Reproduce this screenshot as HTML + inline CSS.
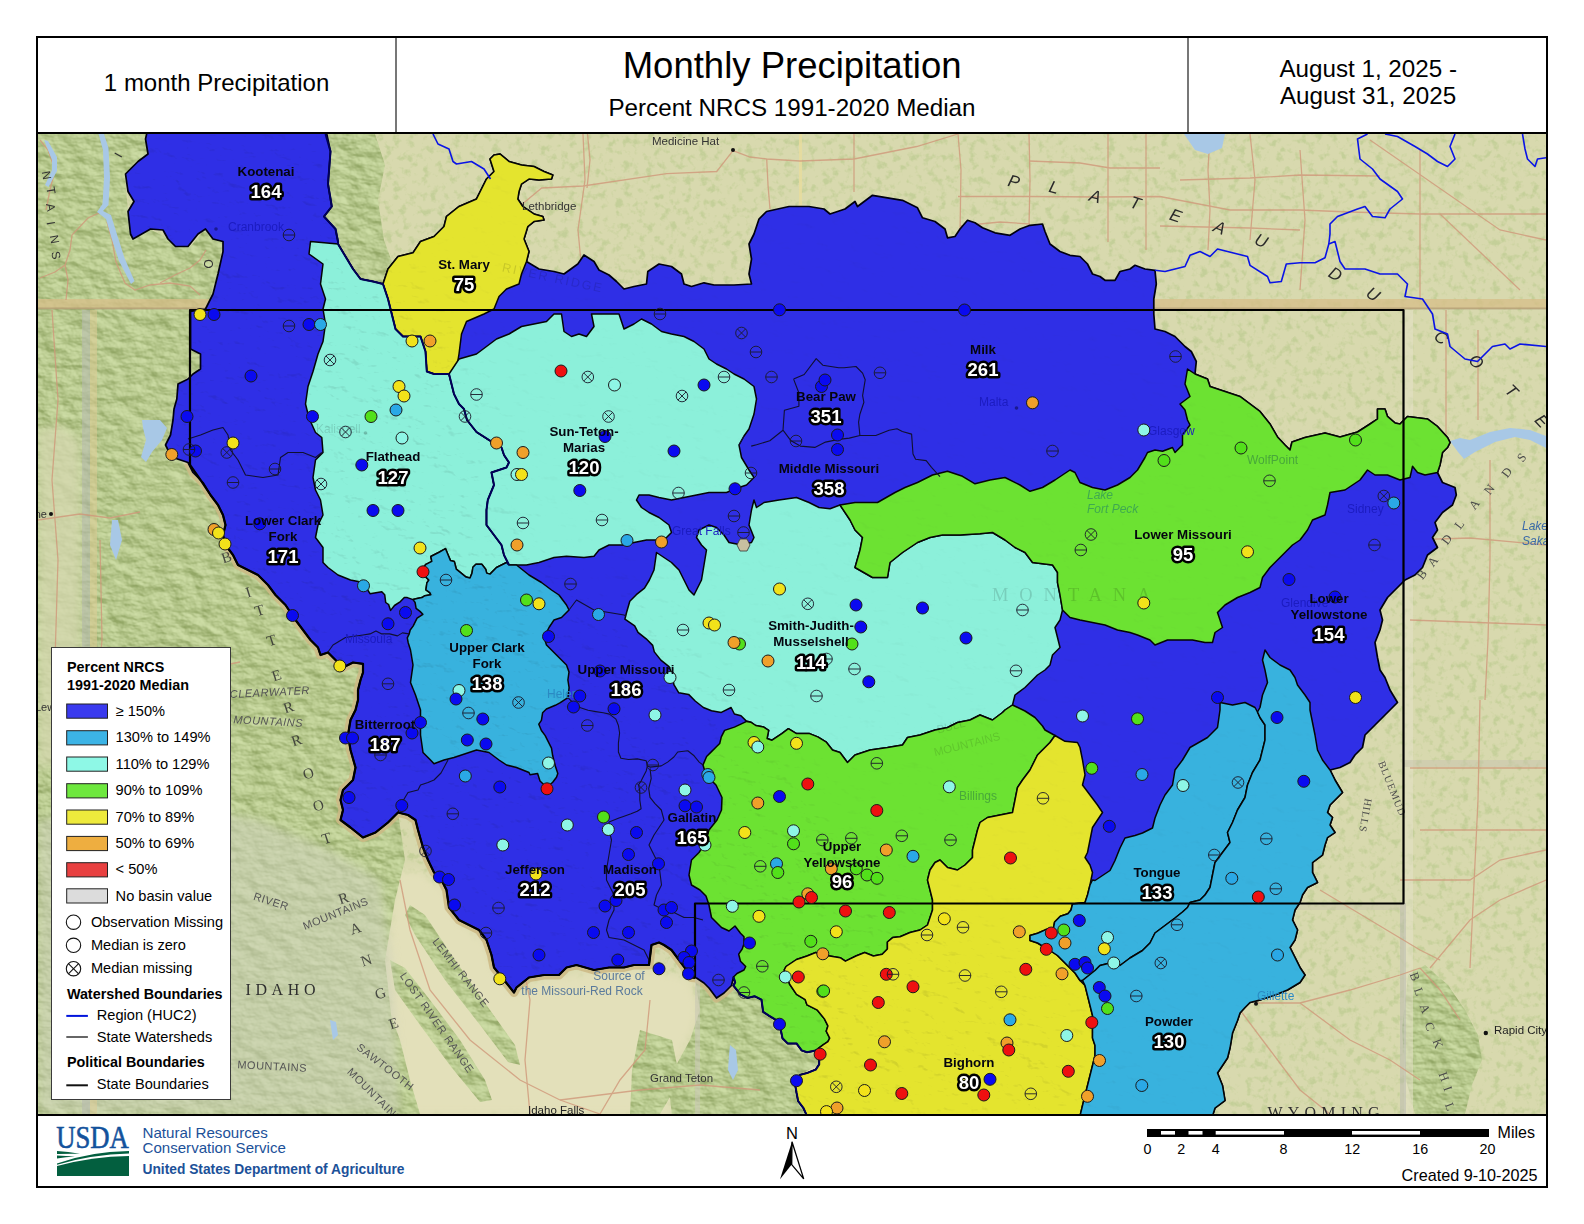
<!DOCTYPE html>
<html><head><meta charset="utf-8"><title>Monthly Precipitation</title>
<style>
html,body{margin:0;padding:0;background:#fff;}
body{width:1584px;height:1224px;position:relative;overflow:hidden;}
svg{position:absolute;left:0;top:0;font-family:"Liberation Sans",Arial,sans-serif;}
.bn{font-weight:bold;font-size:13.3px;fill:#05050f;text-anchor:middle;}
.bv{font-weight:bold;font-size:18.5px;fill:#fff;text-anchor:middle;paint-order:stroke;stroke:#000;stroke-width:5px;stroke-linejoin:round;}
.lh{font-weight:bold;font-size:14.35px;}
.lt{font-size:14.6px;}
.ft{font-size:14.2px;fill:#1c5199;}
.pl{font-size:11px;fill:#3a3a3a;}
</style></head><body>
<svg width="1584" height="1224" viewBox="0 0 1584 1224">
<defs><clipPath id="mapclip"><rect x="38" y="134" width="1508" height="980"/></clipPath></defs>
<rect x="0" y="0" width="1584" height="1224" fill="#fff"/>
<g clip-path="url(#mapclip)">

<defs>
  <filter id="speck" x="0" y="0" width="100%" height="100%" color-interpolation-filters="sRGB">
    <feTurbulence type="fractalNoise" baseFrequency="0.13" numOctaves="3" seed="3"/>
    <feColorMatrix type="matrix" values="0 0 0 0 0.70  0 0 0 0 0.78  0 0 0 0 0.52  0 0 0 -4.2 2.05"/>
  </filter>
  <filter id="hillshade" x="0" y="0" width="100%" height="100%" color-interpolation-filters="sRGB">
    <feTurbulence type="fractalNoise" baseFrequency="0.05 0.09" numOctaves="4" seed="11" result="t"/>
    <feDiffuseLighting in="t" surfaceScale="4" diffuseConstant="1.0" lighting-color="#ffffff" result="l">
      <feDistantLight azimuth="315" elevation="38"/>
    </feDiffuseLighting>
    <feColorMatrix in="l" type="matrix" values="0.24 0 0 0 0.575  0.22 0 0 0 0.655  0.26 0 0 0 0.40  0 0 0 0 1"/>
  </filter>
  <clipPath id="mclip">
    <polygon points="38.0,134.0 150.0,134.0 145.0,139.0 148.0,154.0 125.0,174.0 128.0,212.0 133.0,239.0 150.0,229.0 168.0,239.0 176.0,247.0 190.0,247.0 205.0,229.0 223.0,242.0 218.0,274.0 208.0,304.0 190.0,311.0 190.0,349.0 200.0,354.0 200.0,369.0 178.0,384.0 174.0,409.0 170.0,435.0 168.0,450.0 180.0,460.0 193.0,473.0 210.0,495.0 223.0,515.0 225.0,545.0 238.0,565.0 258.0,575.0 276.0,595.0 296.0,620.0 311.0,640.0 320.0,655.0 343.0,668.0 363.0,664.0 358.0,700.0 348.0,735.0 355.0,768.0 343.0,790.0 341.0,820.0 363.0,838.0 398.0,812.0 405.0,860.0 395.0,900.0 385.0,960.0 395.0,1050.0 400.0,1114.0 38.0,1114.0"/><polygon points="325.0,134.0 375.0,134.0 385.0,165.0 378.0,200.0 384.0,240.0 392.0,262.0 395.0,280.0 383.0,284.0 360.0,279.0 345.0,256.0 338.0,244.0 335.0,229.0 324.0,216.0 332.0,206.0 328.0,184.0 330.0,151.0"/><polygon points="695.0,978.0 733.0,977.0 740.0,994.0 762.0,1000.0 769.0,1015.0 781.0,1030.0 788.0,1043.0 801.0,1050.0 816.0,1051.0 819.0,1064.0 800.0,1075.0 795.0,1090.0 807.0,1116.0 672.0,1116.0 668.0,1080.0 690.0,1040.0 700.0,1010.0"/><polygon points="1408.0,975.0 1425.0,965.0 1448.0,985.0 1465.0,1010.0 1478.0,1035.0 1482.0,1060.0 1472.0,1085.0 1465.0,1114.0 1415.0,1114.0 1406.0,1080.0 1402.0,1030.0"/>
    <polygon points="410.0,905.0 425.0,915.0 455.0,960.0 490.0,1010.0 515.0,1045.0 520.0,1065.0 508.0,1062.0 480.0,1025.0 445.0,980.0 415.0,935.0 405.0,915.0"/><polygon points="390.0,960.0 405.0,968.0 430.0,1000.0 460.0,1040.0 485.0,1080.0 492.0,1100.0 480.0,1102.0 452.0,1068.0 420.0,1025.0 395.0,990.0"/><polygon points="385.0,1000.0 400.0,1040.0 410.0,1080.0 420.0,1114.0 395.0,1114.0 388.0,1060.0"/><polygon points="640.0,1030.0 672.0,1040.0 680.0,1080.0 660.0,1114.0 630.0,1114.0 632.0,1070.0"/>
  </clipPath>
  <filter id="soft"><feGaussianBlur stdDeviation="5"/></filter>
</defs>
<rect x="38" y="134" width="1508" height="980" fill="#d8d9ae"/>
<rect x="38" y="134" width="1508" height="980" filter="url(#speck)" opacity="0.5"/>
<g filter="url(#soft)">
<polygon points="395.0,870.0 420.0,870.0 446.0,890.0 459.0,920.0 486.0,940.0 494.0,968.0 514.0,993.0 540.0,978.0 600.0,970.0 650.0,968.0 690.0,978.0 700.0,1010.0 690.0,1040.0 668.0,1080.0 672.0,1116.0 400.0,1116.0 395.0,1050.0 385.0,960.0" fill="#e3e0ba"/>
</g>
<g clip-path="url(#mclip)">
<rect x="38" y="134" width="1508" height="980" filter="url(#hillshade)"/>
</g>
<polygon points="38.0,820.0 150.0,800.0 260.0,820.0 330.0,850.0 380.0,880.0 392.0,960.0 400.0,1114.0 38.0,1114.0" fill="#d0d2c0" opacity="0.5" filter="url(#soft)"/>
<polygon points="38,430 60,425 80,440 82,560 80,700 60,760 38,770" fill="#d6d8b0" opacity="0.75" filter="url(#soft)"/>
<polyline points="188.0,462.5 193.0,472.5 203.0,482.5 210.5,495.0 218.0,505.0 223.0,515.0 225.5,525.0 223.0,535.0 225.5,545.0 233.0,555.0 238.0,565.0 248.0,570.0 258.0,575.0 268.0,585.0 275.5,595.0 285.5,605.0 295.5,620.0 303.0,630.0 310.5,640.0 318.0,647.5 320.5,655.0 328.0,652.5 335.5,660.0 343.0,667.5 353.0,662.5 363.0,663.8 363.0,672.5 360.5,680.0 358.0,690.0 358.0,700.0 355.5,710.0 350.5,720.0 348.0,735.0 350.5,750.0 355.5,767.5 353.0,780.0 343.0,790.0 340.5,800.0 343.0,810.0 340.5,820.0 350.5,827.5 363.0,837.5 375.5,832.5 388.0,822.5 398.0,812.5 408.0,815.0 415.5,820.0 418.0,830.0 423.0,847.5 428.0,860.0 434.0,872.5 441.5,880.0 446.5,890.0 449.0,907.5 459.0,920.0 469.0,925.0 479.0,930.0 486.5,940.0 491.5,955.0 494.0,967.5 504.0,980.0 514.0,992.5 516.5,987.5 529.0,977.5 544.0,975.0 559.0,975.0 566.5,967.5 576.5,965.0 594.0,970.0 609.0,967.5 624.0,967.5 634.0,965.0 649.0,965.0 651.5,945.0 659.0,942.5 664.0,945.0 671.5,950.0 679.0,960.0 686.5,970.0 691.5,977.5 696.5,978.0 704.0,983.0 709.0,988.0 716.5,998.0 724.0,993.0 731.5,985.5 733.5,977.0" fill="none" stroke="#cdb884" stroke-width="9" stroke-linejoin="round" opacity="0.85"/>
<rect x="38" y="299" width="1508" height="10" fill="#d7bd88" opacity="0.75"/>
<rect x="38" y="307.5" width="1508" height="2" fill="#a08a68" opacity="0.5"/>
<rect x="82" y="310" width="8" height="804" fill="#b4b8ae" opacity="0.55"/>
<rect x="90" y="310" width="7" height="804" fill="#dccb94" opacity="0.55"/>
<rect x="1404" y="310" width="9" height="804" fill="#e6e2c8" opacity="0.55"/>
<rect x="799" y="134" width="3" height="80" fill="#e8dc9c" opacity="0.8"/>
<rect x="695" y="978" width="5" height="136" fill="#c9c6b4" opacity="0.55"/>
<rect x="1400" y="903" width="6" height="211" fill="#b8b8b0" opacity="0.5"/>
<rect x="1404" y="760" width="142" height="7" fill="#c8c4b0" opacity="0.5"/>
<rect x="1290" y="903" width="116" height="7" fill="#c8c4b0" opacity="0.4"/>
<g fill="none" stroke="#d0987a" stroke-width="1.3" opacity="0.8"><polyline points="520.0,206.0 541.7,188.0 583.0,186.0 666.7,173.6 716.7,171.5 733.0,150.7"/><polyline points="733.0,150.7 750.0,157.0 766.7,159.0 800.0,161.0 854.0,159.0 916.7,146.5 958.0,134.0"/><polyline points="766.7,159.0 768.0,185.0 770.0,209.0"/><polyline points="854.0,134.0 854.0,192.0"/><polyline points="958.0,134.0 961.0,170.0 960.0,234.0"/><polyline points="1029.0,134.0 1030.0,180.0 1029.0,226.0"/><polyline points="958.0,196.5 1029.0,196.5 1100.0,197.0 1160.0,196.5 1230.0,210.0 1300.0,210.0 1350.0,212.0 1420.0,214.0 1546.0,214.0"/><polyline points="1029.0,161.0 1080.0,163.0 1110.0,168.0 1160.0,168.0"/><polyline points="1108.0,134.0 1108.0,242.0"/><polyline points="1146.0,134.0 1146.0,250.0"/><polyline points="583.0,134.0 585.0,180.0 578.0,230.0 581.0,262.0"/><polyline points="587.5,134.0 590.0,160.0 587.0,188.0"/><polyline points="960.0,226.0 1000.0,222.0 1030.0,224.0"/><polyline points="40.0,278.0 55.0,272.0 65.0,265.0 70.0,250.0 72.0,235.0 88.0,218.0 99.0,213.0"/><polyline points="65.0,265.0 68.0,280.0 66.0,300.0"/><polyline points="107.0,222.0 112.0,240.0 116.0,262.0 125.0,283.0 135.0,290.0 150.0,285.0 170.0,283.0 190.0,286.0 200.0,295.0"/><polyline points="160.0,283.0 175.0,275.0 190.0,268.0 200.0,260.0 206.0,250.0"/><polyline points="40.0,140.0 48.0,150.0 55.0,170.0 50.0,190.0 46.0,210.0"/><polyline points="1180.0,180.0 1250.0,178.0 1300.0,175.0 1380.0,176.0"/><polyline points="1210.0,134.0 1208.0,170.0 1210.0,210.0 1208.0,250.0"/><polyline points="1250.0,134.0 1255.0,180.0 1250.0,240.0"/><polyline points="1300.0,150.0 1305.0,220.0 1300.0,290.0"/><polyline points="1420.0,150.0 1420.0,300.0"/><polyline points="1440.0,214.0 1520.0,290.0"/><polyline points="1370.0,140.0 1500.0,230.0 1546.0,240.0"/><polyline points="1160.0,226.0 1250.0,228.0 1300.0,230.0"/><polyline points="1446.0,310.0 1446.0,440.0"/><polyline points="1478.0,330.0 1478.0,420.0"/><polyline points="1405.0,540.0 1470.0,538.0 1546.0,545.0"/><polyline points="1490.0,460.0 1490.0,560.0 1488.0,640.0 1485.0,700.0"/><polyline points="1410.0,620.0 1546.0,625.0"/><polyline points="1480.0,700.0 1478.0,800.0 1470.0,968.0"/><polyline points="1410.0,768.0 1546.0,768.0"/><polyline points="1420.0,830.0 1546.0,830.0"/><polyline points="1400.0,880.0 1470.0,880.0 1500.0,860.0 1546.0,850.0"/><polyline points="1320.0,890.0 1370.0,920.0 1420.0,950.0 1440.0,960.0"/><polyline points="1257.0,1003.0 1300.0,1003.0 1350.0,990.0 1400.0,975.0 1420.0,968.0"/><polyline points="1300.0,1003.0 1350.0,1040.0 1390.0,1060.0 1420.0,1080.0"/><polyline points="1420.0,968.0 1440.0,990.0 1460.0,1020.0"/><polyline points="1430.0,968.0 1470.0,920.0 1500.0,900.0 1546.0,880.0"/><polyline points="52.0,310.0 58.0,400.0 52.0,480.0 58.0,560.0 55.0,660.0 60.0,760.0 55.0,860.0"/><polyline points="38.0,520.0 80.0,514.0 110.0,518.0 140.0,512.0"/><polyline points="100.0,540.0 102.0,640.0 95.0,720.0"/><polyline points="150.0,680.0 200.0,670.0 240.0,662.0"/><polyline points="170.0,700.0 180.0,780.0 200.0,850.0"/><polyline points="520.0,950.0 530.0,1000.0 525.0,1060.0 530.0,1114.0"/><polyline points="650.0,1000.0 645.0,1050.0 620.0,1080.0 600.0,1114.0"/><polyline points="400.0,880.0 410.0,930.0 430.0,990.0 470.0,1040.0 520.0,1080.0 560.0,1100.0"/><polyline points="560.0,1100.0 600.0,1114.0"/><polyline points="560.0,1100.0 640.0,1090.0 700.0,1085.0 760.0,1090.0"/><polyline points="1240.0,1010.0 1270.0,1050.0 1300.0,1090.0 1330.0,1114.0"/></g>
<g fill="#a8c8e6"><polygon points="98.5,134.0 104.0,134.0 108.5,148.0 110.0,178.0 108.5,205.0 103.0,211.0 111.0,215.0 117.5,236.0 124.5,258.0 134.5,281.0 131.0,284.0 119.0,261.0 111.5,238.0 106.0,219.0 97.0,212.0 102.5,204.0 104.0,178.0 103.0,150.0"/><polygon points="44.0,140.0 48.0,141.0 57.0,157.0 57.0,171.0 48.5,187.0 45.0,185.0 52.0,170.0 52.0,160.0"/><polygon points="1184.0,134.0 1225.0,134.0 1222.0,148.0 1208.0,154.0 1195.0,150.0"/><polygon points="142.0,420.0 160.0,420.0 167.0,428.0 162.0,440.0 152.0,452.0 146.0,462.0 141.0,457.0 146.0,440.0 143.0,428.0"/><polygon points="1450.0,441.0 1458.0,452.0 1464.0,459.0 1475.0,452.0 1495.0,442.0 1515.0,437.0 1530.0,440.0 1546.0,448.0 1546.0,436.0 1530.0,430.0 1510.0,428.0 1490.0,432.0 1470.0,440.0 1460.0,438.0"/><polygon points="112.0,520.0 118.0,520.0 122.0,540.0 116.0,560.0 110.0,545.0"/><polygon points="199.0,665.0 210.0,660.0 220.0,658.0 218.0,664.0 206.0,668.0 200.0,672.0"/><polygon points="330.0,1020.0 336.0,1022.0 338.0,1035.0 333.0,1040.0"/><polygon points="730.0,1045.0 736.0,1050.0 738.0,1070.0 733.0,1080.0 728.0,1070.0 729.0,1055.0"/></g>

<polygon points="148.0,128.0 325.5,128.0 330.5,151.5 328.0,184.0 331.8,206.5 324.0,216.5 335.5,229.0 338.0,241.5 338.0,244.0 345.5,256.5 353.0,269.0 360.5,279.0 373.0,281.5 383.0,284.0 388.0,269.0 398.0,256.5 413.0,252.8 420.5,241.5 434.0,236.5 444.0,226.5 446.5,216.5 459.0,206.5 476.5,199.0 484.0,184.0 486.5,179.0 494.0,171.5 490.0,159.0 494.0,155.0 500.0,154.0 509.0,161.5 521.5,165.0 534.0,166.5 544.0,171.5 552.8,175.0 551.5,179.0 539.0,180.0 529.0,179.0 521.5,184.0 519.0,191.5 517.8,199.0 522.8,206.5 534.0,214.0 542.8,216.5 544.0,220.0 534.0,221.5 527.8,226.5 524.0,239.0 529.0,251.5 526.5,261.5 539.0,269.0 554.0,271.5 564.0,274.0 577.8,264.0 584.0,255.0 594.0,261.5 599.0,270.0 609.0,275.0 616.5,281.5 624.0,289.0 634.0,286.5 646.5,284.0 647.8,271.5 659.0,264.0 671.5,266.5 681.5,274.0 684.0,284.0 691.5,286.5 704.0,282.8 714.0,285.0 734.0,285.0 751.5,284.0 749.0,274.0 751.5,259.0 749.0,244.0 754.0,234.0 759.0,219.0 766.5,211.5 789.0,206.5 809.0,206.5 824.0,209.0 830.0,214.0 845.0,209.0 855.0,201.5 857.5,206.5 872.5,195.3 887.5,197.8 902.5,200.3 917.5,207.8 922.5,217.8 935.0,221.5 945.0,229.0 947.5,237.8 955.0,236.5 960.0,229.0 967.5,220.3 975.0,222.8 982.5,227.8 995.0,232.8 1010.0,235.3 1020.0,229.0 1030.0,225.3 1042.5,224.0 1045.0,231.5 1050.0,244.0 1060.0,251.5 1070.0,255.3 1080.0,256.5 1087.5,264.0 1092.5,274.0 1100.0,276.5 1105.0,280.3 1115.0,280.3 1120.0,271.5 1130.0,269.0 1135.0,265.3 1145.0,269.0 1155.0,270.3 1156.3,284.0 1153.8,299.0 1153.8,314.0 1155.0,329.0 1165.0,331.5 1175.0,336.5 1185.0,346.5 1191.3,351.5 1196.3,361.5 1195.0,374.0 1207.5,379.0 1210.0,386.5 1225.0,391.5 1240.0,396.5 1250.0,404.0 1260.0,411.5 1270.0,424.0 1277.5,437.0 1285.0,445.0 1290.0,450.0 1292.0,442.0 1305.0,437.5 1325.0,433.0 1340.0,437.0 1357.5,432.0 1370.0,424.0 1377.5,419.0 1377.5,409.0 1385.0,409.0 1387.5,416.5 1395.0,423.0 1400.0,424.0 1407.5,416.5 1427.5,419.0 1437.5,426.5 1447.5,437.5 1450.0,442.5 1447.5,447.5 1442.5,452.5 1440.0,465.0 1437.5,472.5 1442.5,482.5 1455.0,487.5 1456.3,495.0 1452.5,505.0 1442.5,512.5 1435.0,522.5 1437.5,530.0 1432.5,537.5 1437.5,547.5 1427.5,555.0 1422.5,567.5 1415.0,575.0 1405.0,580.0 1397.5,587.5 1387.5,597.5 1380.0,610.0 1382.5,620.0 1380.0,630.0 1375.0,642.5 1377.5,657.5 1380.0,670.0 1385.0,677.5 1390.0,690.0 1397.5,702.5 1390.0,710.0 1385.0,715.0 1375.0,725.0 1365.0,735.0 1362.5,747.5 1355.0,755.0 1350.0,762.5 1340.0,767.5 1330.0,770.0 1335.0,780.0 1342.5,792.5 1335.0,800.0 1330.0,805.0 1327.5,812.5 1332.5,817.5 1330.0,825.0 1335.0,832.5 1327.5,837.5 1325.0,845.0 1322.5,855.0 1312.5,862.5 1312.5,872.5 1317.5,882.5 1307.5,887.5 1302.5,895.0 1300.0,902.5 1295.0,910.0 1292.5,920.0 1297.5,930.0 1295.0,940.0 1290.0,947.5 1295.0,957.5 1300.0,967.5 1305.0,975.0 1300.0,982.5 1287.5,990.0 1275.0,995.0 1260.0,1000.0 1250.0,1002.5 1245.0,1007.5 1240.0,1013.0 1237.5,1020.5 1232.5,1033.0 1230.0,1048.0 1227.5,1058.0 1222.5,1065.5 1217.5,1073.0 1222.5,1085.5 1225.0,1100.5 1215.0,1108.0 1212.5,1116.0 807.0,1116.0 803.5,1108.1 798.2,1101.1 796.5,1092.4 794.7,1081.9 800.0,1074.9 807.0,1073.1 815.7,1069.6 819.2,1064.4 819.2,1057.4 815.7,1050.4 807.0,1052.2 801.7,1050.4 796.5,1043.4 787.7,1043.4 782.5,1038.2 780.7,1029.4 777.2,1020.7 768.5,1015.4 763.2,1011.9 761.5,999.7 754.5,996.2 747.5,997.9 740.5,994.4 733.5,985.7 735.2,982.2 733.5,977.0 731.5,985.5 724.0,993.0 716.5,998.0 709.0,988.0 704.0,983.0 696.5,978.0 691.5,977.5 686.5,970.0 679.0,960.0 671.5,950.0 664.0,945.0 659.0,942.5 651.5,945.0 649.0,965.0 634.0,965.0 624.0,967.5 609.0,967.5 594.0,970.0 576.5,965.0 566.5,967.5 559.0,975.0 544.0,975.0 529.0,977.5 516.5,987.5 514.0,992.5 504.0,980.0 494.0,967.5 491.5,955.0 486.5,940.0 479.0,930.0 469.0,925.0 459.0,920.0 449.0,907.5 446.5,890.0 441.5,880.0 434.0,872.5 428.0,860.0 423.0,847.5 418.0,830.0 415.5,820.0 408.0,815.0 398.0,812.5 388.0,822.5 375.5,832.5 363.0,837.5 350.5,827.5 340.5,820.0 343.0,810.0 340.5,800.0 343.0,790.0 353.0,780.0 355.5,767.5 350.5,750.0 348.0,735.0 350.5,720.0 355.5,710.0 358.0,700.0 358.0,690.0 360.5,680.0 363.0,672.5 363.0,663.8 353.0,662.5 343.0,667.5 335.5,660.0 328.0,652.5 320.5,655.0 318.0,647.5 310.5,640.0 303.0,630.0 295.5,620.0 285.5,605.0 275.5,595.0 268.0,585.0 258.0,575.0 248.0,570.0 238.0,565.0 233.0,555.0 225.5,545.0 223.0,535.0 225.5,525.0 223.0,515.0 218.0,505.0 210.5,495.0 203.0,482.5 193.0,472.5 188.0,462.5 180.5,460.0 173.0,457.5 168.0,450.0 165.5,445.0 170.5,435.0 173.0,420.0 174.0,409.0 176.8,399.0 178.0,384.0 188.0,379.0 193.0,374.0 200.5,369.0 200.5,354.0 190.5,349.0 190.5,311.5 205.5,309.0 208.0,304.0 213.0,294.0 218.0,274.0 223.0,251.5 223.0,241.5 213.0,239.0 205.5,229.0 198.0,234.0 188.0,246.5 175.5,246.5 168.0,239.0 163.0,230.0 150.5,229.0 133.0,239.0 130.5,234.0 128.0,211.5 134.0,201.5 128.0,191.5 125.5,174.0 138.0,161.5 148.0,154.0 145.5,139.0" fill="#2f2fe6" stroke="#000010" stroke-width="1.7" stroke-linejoin="round" />
<polygon points="383.0,284.0 388.0,269.0 398.0,256.5 413.0,252.8 420.5,241.5 434.0,236.5 444.0,226.5 446.5,216.5 459.0,206.5 476.5,199.0 484.0,184.0 486.5,179.0 494.0,171.5 490.0,159.0 494.0,155.0 500.0,154.0 509.0,161.5 521.5,165.0 534.0,166.5 544.0,171.5 552.8,175.0 551.5,179.0 539.0,180.0 529.0,179.0 521.5,184.0 519.0,191.5 517.8,199.0 522.8,206.5 534.0,214.0 542.8,216.5 544.0,220.0 534.0,221.5 527.8,226.5 524.0,239.0 529.0,251.5 526.5,261.5 521.5,274.0 519.0,284.0 506.5,289.0 499.0,296.5 494.0,309.0 484.0,314.0 466.5,321.5 461.5,334.0 459.0,354.0 456.5,369.0 449.0,374.0 440.0,374.0 434.0,374.0 426.8,371.5 425.5,351.5 420.5,336.5 403.0,336.5 395.5,329.0 390.5,309.0 388.0,299.0" fill="#e4e42e" stroke="#050505" stroke-width="1.5" stroke-linejoin="round" />
<polygon points="310.5,241.5 338.0,244.0 345.5,256.5 353.0,269.0 360.5,279.0 373.0,281.5 383.0,284.0 388.0,299.0 390.5,309.0 395.5,329.0 403.0,336.5 420.5,336.5 425.5,351.5 426.8,371.5 434.0,374.0 449.0,374.0 451.5,384.0 454.0,394.0 459.0,404.0 464.0,409.0 467.0,420.0 476.5,432.0 489.0,440.0 501.5,447.5 504.0,455.0 509.0,462.5 506.5,467.5 491.5,472.5 494.0,485.0 487.8,500.0 486.5,510.0 486.5,525.0 494.0,535.0 501.5,545.0 504.0,555.0 509.0,565.0 506.5,562.5 496.5,567.5 490.0,574.1 486.7,573.1 485.7,569.2 481.8,564.3 475.9,564.3 472.9,567.3 472.0,573.1 470.0,578.0 466.1,577.1 461.2,573.1 456.3,569.2 455.3,565.3 454.3,561.4 450.4,560.4 447.5,553.5 445.5,548.6 438.6,552.5 432.7,555.5 430.8,556.5 431.8,561.4 425.9,564.3 422.9,568.2 424.9,576.1 428.8,580.0 426.9,582.9 425.9,589.8 429.8,592.7 430.8,594.7 424.9,595.7 422.0,597.6 417.1,598.6 413.1,599.6 407.3,597.6 404.3,597.6 400.4,601.6 394.5,605.5 390.6,610.4 388.6,604.5 385.7,602.5 384.7,594.7 381.8,591.8 375.9,592.7 370.0,593.7 363.0,582.5 350.5,580.0 338.0,575.0 328.0,567.5 323.0,562.5 323.0,547.5 315.5,537.5 318.0,525.0 323.0,515.0 320.5,500.0 315.5,490.0 313.0,477.5 315.5,460.0 323.0,452.5 321.8,437.5 315.5,432.5 309.0,418.0 305.5,404.0 308.0,386.5 313.0,371.5 318.0,354.0 323.0,341.5 325.5,324.0 323.0,309.0 325.5,299.0 320.5,284.0 323.0,264.0 309.0,254.0" fill="#8cf0da" stroke="#050505" stroke-width="1.5" stroke-linejoin="round" />
<polygon points="449.0,374.0 459.0,359.0 476.5,354.0 496.5,339.0 509.0,334.0 521.5,326.5 534.0,324.0 546.5,321.5 554.0,314.0 561.5,314.0 564.0,331.5 571.5,336.5 579.0,334.0 586.5,336.5 594.0,326.5 591.5,314.0 609.0,314.0 619.0,314.0 624.0,329.0 634.0,324.0 641.5,319.0 651.5,324.0 661.5,331.5 671.5,334.0 684.0,336.5 694.0,341.5 704.0,349.0 709.0,359.0 716.5,364.0 726.5,369.0 734.0,374.0 744.0,379.0 754.0,386.5 756.5,399.0 754.0,414.0 749.0,429.0 744.0,436.0 739.0,445.0 741.5,457.5 749.0,470.0 754.0,477.5 746.5,485.0 739.0,487.5 726.5,492.5 709.0,492.5 696.5,495.0 684.0,497.5 671.5,500.0 659.0,497.5 649.0,495.0 639.0,495.0 636.5,500.0 641.5,507.5 649.0,512.5 659.0,517.5 669.0,525.0 671.5,532.5 666.5,537.5 659.0,540.0 646.5,540.0 634.0,542.5 624.0,545.0 609.0,545.0 599.0,550.0 594.0,556.3 584.0,557.5 566.5,556.3 554.0,557.5 539.0,562.5 526.5,565.0 516.5,565.0 509.0,565.0 504.0,555.0 501.5,545.0 494.0,535.0 486.5,525.0 486.5,510.0 487.8,500.0 494.0,485.0 491.5,472.5 506.5,467.5 509.0,462.5 504.0,455.0 501.5,447.5 489.0,440.0 476.5,432.0 467.0,420.0 464.0,409.0 459.0,404.0 454.0,394.0 451.5,384.0" fill="#8cf0da" stroke="#050505" stroke-width="1.5" stroke-linejoin="round" />
<polygon points="656.5,552.5 664.0,557.5 671.5,562.5 679.0,570.0 684.0,580.0 689.0,590.0 694.0,595.0 701.5,580.0 704.0,565.0 706.5,550.0 701.5,545.0 696.5,537.5 699.0,530.0 709.0,525.0 716.5,527.5 724.0,535.0 729.0,542.5 741.5,545.0 751.5,542.5 754.0,537.5 749.0,525.0 751.5,510.0 754.0,500.0 756.5,507.5 764.0,502.5 779.0,500.0 796.5,497.5 809.0,502.5 819.0,507.5 830.0,508.8 840.0,505.0 850.0,520.0 855.0,530.0 862.5,537.5 860.0,550.0 855.0,567.5 872.5,577.5 887.5,577.5 890.0,562.5 902.5,552.5 917.5,542.5 930.0,537.5 942.5,535.0 960.0,535.0 980.0,533.8 992.5,532.5 1005.0,540.0 1015.0,547.5 1025.0,552.5 1032.5,562.5 1042.5,563.8 1052.5,565.0 1057.5,572.5 1057.5,582.5 1060.0,595.0 1062.5,610.0 1060.0,620.0 1055.0,627.5 1057.5,637.5 1060.0,647.5 1052.5,655.0 1050.0,665.0 1045.0,670.0 1037.5,675.0 1030.0,682.5 1025.0,687.5 1015.0,695.0 1012.5,705.0 1005.0,710.0 1002.5,712.5 992.5,720.0 980.0,715.0 970.0,720.0 957.5,722.5 947.5,727.5 935.0,730.0 920.0,735.0 907.5,737.5 902.5,745.0 887.5,747.5 870.0,750.0 855.0,755.0 847.5,762.5 840.0,752.5 832.5,750.0 826.0,741.8 817.8,736.9 809.6,733.6 796.5,733.6 788.4,728.7 781.8,733.6 772.0,740.2 767.1,738.5 768.7,730.4 763.8,727.1 755.7,725.5 750.8,722.2 746.7,721.0 745.9,720.6 741.0,715.7 734.4,714.0 731.1,707.5 721.3,712.4 711.5,710.8 703.4,707.5 695.2,701.0 688.6,694.4 678.8,692.8 673.9,684.6 672.3,674.8 669.0,666.6 660.9,660.1 654.3,651.9 652.7,645.4 646.2,638.8 638.0,632.3 634.7,625.8 624.9,619.2 626.5,612.7 629.8,601.2 636.3,594.7 644.5,588.2 649.4,580.0 654.0,570.0" fill="#8cf0da" stroke="#050505" stroke-width="1.5" stroke-linejoin="round" />
<polygon points="413.1,599.6 417.1,598.6 422.0,597.6 424.9,595.7 430.8,594.7 429.8,592.7 425.9,589.8 426.9,582.9 428.8,580.0 424.9,576.1 422.9,568.2 425.9,564.3 431.8,561.4 430.8,556.5 432.7,555.5 438.6,552.5 445.5,548.6 447.5,553.5 450.4,560.4 454.3,561.4 455.3,565.3 456.3,569.2 461.2,573.1 466.1,577.1 470.0,578.0 472.0,573.1 472.9,567.3 475.9,564.3 481.8,564.3 485.7,569.2 486.7,573.1 490.0,574.1 496.5,567.5 506.5,562.5 509.0,565.0 516.5,565.0 529.0,575.0 541.5,582.5 551.5,590.0 559.0,595.0 566.5,605.0 569.0,610.0 561.5,617.5 554.0,620.0 549.0,627.5 544.0,637.5 546.5,645.0 551.5,650.0 559.0,657.5 566.5,665.0 569.0,672.0 567.9,680.0 569.1,687.6 567.9,697.7 560.3,702.7 555.3,705.3 546.4,709.0 542.6,712.8 541.4,720.4 538.8,724.2 541.4,730.5 545.2,735.6 547.7,740.6 551.5,748.2 552.7,755.8 555.3,765.9 557.8,773.4 556.5,777.2 552.7,782.3 547.0,787.3 544.0,784.8 540.0,781.0 537.6,773.4 530.0,774.7 529.0,772.5 516.5,767.5 506.5,765.0 499.0,760.0 489.0,752.5 476.5,750.0 469.0,752.5 454.0,757.5 444.0,760.0 434.0,763.8 430.5,760.0 423.0,752.5 420.5,735.0 420.5,710.0 415.5,695.0 410.5,682.5 413.0,665.0 410.5,650.0 408.2,642.7 407.3,637.8 409.2,633.9 410.2,630.0 413.1,626.1 415.1,622.2 417.1,618.2 422.9,614.3 420.0,611.4 416.1,608.4 415.1,602.5" fill="#38b2de" stroke="#050505" stroke-width="1.5" stroke-linejoin="round" />
<polygon points="840.0,505.0 855.0,502.5 877.5,502.5 895.0,492.5 905.0,487.5 917.5,482.5 932.5,475.0 947.5,471.3 962.5,476.3 975.0,483.8 990.0,480.0 1005.0,477.5 1020.0,485.0 1030.0,491.3 1042.5,487.5 1055.0,480.0 1070.0,470.0 1075.0,472.5 1080.0,482.5 1092.5,487.5 1105.0,490.0 1117.5,485.0 1130.0,477.5 1137.5,470.0 1145.0,457.5 1147.5,452.5 1155.0,450.0 1162.5,451.3 1172.5,447.5 1175.0,452.5 1182.5,445.0 1182.5,435.0 1190.0,425.0 1187.5,420.0 1185.0,410.0 1180.0,404.0 1190.0,396.5 1185.0,384.0 1187.5,369.0 1195.0,374.0 1207.5,379.0 1210.0,386.5 1225.0,391.5 1240.0,396.5 1250.0,404.0 1260.0,411.5 1270.0,424.0 1277.5,437.0 1285.0,445.0 1290.0,450.0 1292.0,442.0 1305.0,437.5 1325.0,433.0 1340.0,437.0 1357.5,432.0 1370.0,424.0 1377.5,419.0 1377.5,409.0 1385.0,409.0 1387.5,416.5 1395.0,423.0 1400.0,424.0 1407.5,416.5 1427.5,419.0 1437.5,426.5 1447.5,437.5 1450.0,442.5 1447.5,447.5 1442.5,452.5 1440.0,465.0 1437.5,472.5 1425.0,475.0 1417.5,472.5 1412.5,466.3 1410.0,477.5 1400.0,480.0 1387.5,475.0 1375.0,475.0 1367.5,470.0 1360.0,480.0 1352.5,485.0 1345.0,490.0 1330.0,492.5 1327.5,505.0 1325.0,515.0 1312.5,520.0 1307.5,530.0 1300.0,540.0 1292.5,545.0 1287.5,550.0 1280.0,557.5 1270.0,567.5 1262.5,577.5 1260.0,587.5 1250.0,592.5 1237.5,597.5 1225.0,605.0 1217.5,612.5 1220.0,620.0 1222.5,627.5 1215.0,632.5 1212.5,642.5 1205.0,642.5 1192.5,640.0 1180.0,640.0 1167.5,640.0 1155.0,645.0 1150.0,640.0 1137.5,635.0 1130.0,632.5 1117.5,630.0 1105.0,625.0 1092.5,622.5 1080.0,620.0 1070.0,617.5 1062.5,610.0 1060.0,595.0 1057.5,582.5 1057.5,572.5 1052.5,565.0 1042.5,563.8 1032.5,562.5 1025.0,552.5 1015.0,547.5 1005.0,540.0 992.5,532.5 980.0,533.8 960.0,535.0 942.5,535.0 930.0,537.5 917.5,542.5 902.5,552.5 890.0,562.5 887.5,577.5 872.5,577.5 855.0,567.5 860.0,550.0 862.5,537.5 855.0,530.0 850.0,520.0" fill="#6ce232" stroke="#050505" stroke-width="1.5" stroke-linejoin="round" />
<polygon points="746.7,721.4 750.8,722.2 755.7,725.5 763.8,727.1 768.7,730.4 767.1,738.5 772.0,740.2 781.8,733.6 788.4,728.7 796.5,733.6 809.6,733.6 817.8,736.9 826.0,741.8 832.5,750.0 840.0,752.5 847.5,762.5 855.0,755.0 870.0,750.0 887.5,747.5 902.5,745.0 907.5,737.5 920.0,735.0 935.0,730.0 947.5,727.5 957.5,722.5 970.0,720.0 980.0,715.0 992.5,720.0 1002.5,712.5 1005.0,710.0 1012.5,705.0 1025.0,711.0 1035.0,717.5 1042.5,726.0 1045.0,730.0 1055.0,735.5 1050.0,742.5 1042.5,750.0 1037.5,755.0 1030.0,770.0 1022.5,780.0 1017.5,787.5 1015.0,800.0 1012.5,812.5 1000.0,815.0 987.5,817.5 980.0,822.5 977.5,830.0 975.0,840.0 972.5,850.0 972.5,857.5 965.0,865.0 957.5,870.0 947.5,867.5 940.0,860.0 935.0,862.5 930.0,870.0 927.5,880.0 930.0,890.0 932.5,900.0 932.5,910.0 930.0,917.5 927.5,925.0 920.0,930.0 910.0,932.5 900.0,936.7 892.6,937.6 887.4,942.0 887.4,949.0 882.2,954.2 873.4,956.0 864.7,952.5 855.9,956.0 845.4,961.2 840.2,957.7 829.7,956.0 822.7,956.0 815.7,952.5 807.0,956.0 796.5,959.5 786.0,966.5 784.2,970.0 787.7,977.0 789.5,984.0 796.5,994.4 805.2,999.7 807.0,1004.9 817.4,1010.2 824.4,1018.9 827.9,1025.9 826.2,1031.2 829.7,1038.2 827.9,1041.7 822.7,1045.2 815.7,1050.4 807.0,1052.2 801.7,1050.4 796.5,1043.4 787.7,1043.4 782.5,1038.2 780.7,1029.4 777.2,1020.7 768.5,1015.4 763.2,1011.9 761.5,999.7 754.5,996.2 747.5,997.9 740.5,994.4 733.5,985.7 735.2,982.2 733.5,977.0 737.0,973.5 744.0,970.0 745.7,966.5 740.5,961.2 738.7,954.2 742.2,949.0 744.0,943.7 744.0,936.7 740.5,933.2 735.0,926.0 729.0,931.0 721.5,927.5 711.5,917.5 709.0,905.0 706.0,896.0 700.0,890.0 691.5,885.0 689.0,875.0 691.5,860.0 699.0,852.5 704.0,845.0 709.0,830.0 717.0,820.0 721.5,810.0 722.0,797.5 716.0,785.0 706.0,775.0 703.0,765.0 706.6,756.5 711.5,751.6 716.4,746.7 719.7,743.5 721.3,736.9 724.6,730.4 734.4,727.1" fill="#6ce232" stroke="#050505" stroke-width="1.5" stroke-linejoin="round" />
<polygon points="1055.0,735.5 1065.0,741.3 1077.5,742.5 1080.0,747.5 1082.5,760.0 1085.0,775.0 1082.5,785.0 1090.0,795.0 1097.5,805.0 1102.5,812.5 1097.5,820.0 1092.5,827.5 1090.0,840.0 1087.5,852.5 1085.0,857.5 1090.0,865.0 1092.5,872.5 1090.0,885.0 1087.5,895.0 1085.0,902.5 1072.5,904.0 1071.0,910.0 1067.9,913.8 1060.3,916.3 1054.6,922.0 1053.4,928.3 1045.8,929.6 1037.6,933.3 1030.0,935.5 1030.0,940.5 1037.5,943.0 1050.0,950.5 1057.5,955.5 1065.0,963.0 1070.0,968.0 1075.0,973.0 1080.0,980.5 1085.0,985.5 1087.5,995.5 1090.0,1005.5 1092.5,1015.5 1092.5,1025.5 1092.5,1038.0 1095.0,1045.5 1095.0,1055.5 1092.5,1065.5 1090.0,1075.5 1087.5,1085.5 1085.0,1095.5 1082.5,1105.5 1080.0,1116.0 807.0,1116.0 803.5,1108.1 798.2,1101.1 796.5,1092.4 794.7,1081.9 800.0,1074.9 807.0,1073.1 815.7,1069.6 819.2,1064.4 819.2,1057.4 815.7,1050.4 822.7,1045.2 827.9,1041.7 829.7,1038.2 826.2,1031.2 827.9,1025.9 824.4,1018.9 817.4,1010.2 807.0,1004.9 805.2,999.7 796.5,994.4 789.5,984.0 787.7,977.0 784.2,970.0 786.0,966.5 796.5,959.5 807.0,956.0 815.7,952.5 822.7,956.0 829.7,956.0 840.2,957.7 845.4,961.2 855.9,956.0 864.7,952.5 873.4,956.0 882.2,954.2 887.4,949.0 887.4,942.0 892.6,937.6 900.0,936.7 910.0,932.5 920.0,930.0 927.5,925.0 930.0,917.5 932.5,910.0 932.5,900.0 930.0,890.0 927.5,880.0 930.0,870.0 935.0,862.5 940.0,860.0 947.5,867.5 957.5,870.0 965.0,865.0 972.5,857.5 972.5,850.0 975.0,840.0 977.5,830.0 980.0,822.5 987.5,817.5 1000.0,815.0 1012.5,812.5 1015.0,800.0 1017.5,787.5 1022.5,780.0 1030.0,770.0 1037.5,755.0 1042.5,750.0 1050.0,742.5" fill="#e4e42e" stroke="#050505" stroke-width="1.5" stroke-linejoin="round" />
<polygon points="1220.0,702.5 1232.5,705.0 1245.0,702.5 1255.0,707.5 1257.5,712.0 1260.0,717.5 1265.0,725.0 1265.0,740.0 1260.0,760.0 1252.5,772.5 1247.5,785.0 1245.0,797.5 1237.5,810.0 1232.5,822.5 1227.5,832.5 1230.0,842.5 1222.5,852.5 1215.0,862.5 1212.5,875.0 1210.0,887.5 1205.0,895.0 1200.0,900.0 1190.0,902.5 1187.5,907.5 1182.5,912.0 1175.0,918.0 1165.0,925.5 1155.0,933.0 1150.0,943.0 1142.5,950.5 1130.0,958.0 1120.0,965.5 1110.0,963.0 1100.0,965.5 1095.0,970.5 1082.5,980.5 1080.0,980.5 1075.0,973.0 1070.0,968.0 1065.0,963.0 1057.5,955.5 1050.0,950.5 1037.5,943.0 1030.0,940.5 1030.0,935.5 1037.6,933.3 1045.8,929.6 1053.4,928.3 1054.6,922.0 1060.3,916.3 1067.9,913.8 1071.0,910.0 1072.5,904.0 1085.0,902.5 1087.5,895.0 1090.0,885.0 1092.5,880.0 1095.0,880.5 1102.5,875.5 1110.0,870.5 1115.0,860.5 1120.0,848.0 1125.0,838.0 1135.0,835.5 1142.5,833.0 1152.5,828.0 1155.0,818.0 1160.0,805.0 1165.0,795.0 1172.5,785.0 1175.0,770.0 1182.5,760.0 1190.0,747.5 1207.5,737.5 1217.5,727.5 1220.0,710.0" fill="#38b2de" stroke="#050505" stroke-width="1.5" stroke-linejoin="round" />
<polygon points="1265.0,650.0 1270.0,657.5 1280.0,665.0 1290.0,670.0 1295.0,677.5 1297.5,685.0 1305.0,695.0 1310.0,702.5 1310.0,710.0 1315.0,735.0 1317.5,750.0 1322.5,760.0 1330.0,770.0 1335.0,780.0 1342.5,792.5 1335.0,800.0 1330.0,805.0 1327.5,812.5 1332.5,817.5 1330.0,825.0 1335.0,832.5 1327.5,837.5 1325.0,845.0 1322.5,855.0 1312.5,862.5 1312.5,872.5 1317.5,882.5 1307.5,887.5 1302.5,895.0 1300.0,902.5 1295.0,910.0 1292.5,920.0 1297.5,930.0 1295.0,940.0 1290.0,947.5 1295.0,957.5 1300.0,967.5 1305.0,975.0 1300.0,982.5 1287.5,990.0 1275.0,995.0 1260.0,1000.0 1250.0,1002.5 1245.0,1007.5 1240.0,1013.0 1237.5,1020.5 1232.5,1033.0 1230.0,1048.0 1227.5,1058.0 1222.5,1065.5 1217.5,1073.0 1222.5,1085.5 1225.0,1100.5 1215.0,1108.0 1212.5,1116.0 1080.0,1116.0 1082.5,1105.5 1085.0,1095.5 1087.5,1085.5 1090.0,1075.5 1092.5,1065.5 1095.0,1055.5 1095.0,1045.5 1092.5,1038.0 1092.5,1025.5 1092.5,1015.5 1090.0,1005.5 1087.5,995.5 1085.0,985.5 1082.5,980.5 1095.0,970.5 1100.0,965.5 1110.0,963.0 1120.0,965.5 1130.0,958.0 1142.5,950.5 1150.0,943.0 1155.0,933.0 1165.0,925.5 1175.0,918.0 1182.5,912.0 1187.5,907.5 1190.0,902.5 1200.0,900.0 1205.0,895.0 1210.0,887.5 1212.5,875.0 1215.0,862.5 1222.5,852.5 1230.0,842.5 1227.5,832.5 1232.5,822.5 1237.5,810.0 1245.0,797.5 1247.5,785.0 1252.5,772.5 1260.0,760.0 1265.0,740.0 1265.0,725.0 1260.0,717.5 1257.5,712.0 1260.0,707.5 1262.5,695.0 1267.5,682.5 1265.0,670.0 1262.5,660.0" fill="#38b2de" stroke="#050505" stroke-width="1.5" stroke-linejoin="round" />
<defs>
<filter id="relief" x="0" y="0" width="100%" height="100%" color-interpolation-filters="sRGB">
  <feTurbulence type="fractalNoise" baseFrequency="0.05 0.09" numOctaves="4" seed="11" result="t"/>
  <feDiffuseLighting in="t" surfaceScale="4" diffuseConstant="1.0" lighting-color="#ffffff" result="l"><feDistantLight azimuth="315" elevation="38"/></feDiffuseLighting>
  <feColorMatrix in="l" type="matrix" values="0.22 0 0 0 0.92  0.22 0 0 0 0.92  0.22 0 0 0 0.92  0 0 0 0 1"/>
</filter>
<filter id="beltblur" x="-10%" y="-10%" width="120%" height="120%"><feGaussianBlur stdDeviation="25"/></filter>
<mask id="beltmask" maskUnits="userSpaceOnUse" x="38" y="134" width="1508" height="980"><rect x="38" y="134" width="1508" height="980" fill="#3a3a3a"/><polygon points="100,134 340,134 420,300 480,380 520,560 640,600 720,700 780,760 880,900 1020,960 1120,1114 100,1114" fill="#fff" filter="url(#beltblur)"/></mask>
<clipPath id="basinclip"><polygon points="148.0,128.0 325.5,128.0 330.5,151.5 328.0,184.0 331.8,206.5 324.0,216.5 335.5,229.0 338.0,241.5 338.0,244.0 345.5,256.5 353.0,269.0 360.5,279.0 373.0,281.5 383.0,284.0 388.0,269.0 398.0,256.5 413.0,252.8 420.5,241.5 434.0,236.5 444.0,226.5 446.5,216.5 459.0,206.5 476.5,199.0 484.0,184.0 486.5,179.0 494.0,171.5 490.0,159.0 494.0,155.0 500.0,154.0 509.0,161.5 521.5,165.0 534.0,166.5 544.0,171.5 552.8,175.0 551.5,179.0 539.0,180.0 529.0,179.0 521.5,184.0 519.0,191.5 517.8,199.0 522.8,206.5 534.0,214.0 542.8,216.5 544.0,220.0 534.0,221.5 527.8,226.5 524.0,239.0 529.0,251.5 526.5,261.5 539.0,269.0 554.0,271.5 564.0,274.0 577.8,264.0 584.0,255.0 594.0,261.5 599.0,270.0 609.0,275.0 616.5,281.5 624.0,289.0 634.0,286.5 646.5,284.0 647.8,271.5 659.0,264.0 671.5,266.5 681.5,274.0 684.0,284.0 691.5,286.5 704.0,282.8 714.0,285.0 734.0,285.0 751.5,284.0 749.0,274.0 751.5,259.0 749.0,244.0 754.0,234.0 759.0,219.0 766.5,211.5 789.0,206.5 809.0,206.5 824.0,209.0 830.0,214.0 845.0,209.0 855.0,201.5 857.5,206.5 872.5,195.3 887.5,197.8 902.5,200.3 917.5,207.8 922.5,217.8 935.0,221.5 945.0,229.0 947.5,237.8 955.0,236.5 960.0,229.0 967.5,220.3 975.0,222.8 982.5,227.8 995.0,232.8 1010.0,235.3 1020.0,229.0 1030.0,225.3 1042.5,224.0 1045.0,231.5 1050.0,244.0 1060.0,251.5 1070.0,255.3 1080.0,256.5 1087.5,264.0 1092.5,274.0 1100.0,276.5 1105.0,280.3 1115.0,280.3 1120.0,271.5 1130.0,269.0 1135.0,265.3 1145.0,269.0 1155.0,270.3 1156.3,284.0 1153.8,299.0 1153.8,314.0 1155.0,329.0 1165.0,331.5 1175.0,336.5 1185.0,346.5 1191.3,351.5 1196.3,361.5 1195.0,374.0 1207.5,379.0 1210.0,386.5 1225.0,391.5 1240.0,396.5 1250.0,404.0 1260.0,411.5 1270.0,424.0 1277.5,437.0 1285.0,445.0 1290.0,450.0 1292.0,442.0 1305.0,437.5 1325.0,433.0 1340.0,437.0 1357.5,432.0 1370.0,424.0 1377.5,419.0 1377.5,409.0 1385.0,409.0 1387.5,416.5 1395.0,423.0 1400.0,424.0 1407.5,416.5 1427.5,419.0 1437.5,426.5 1447.5,437.5 1450.0,442.5 1447.5,447.5 1442.5,452.5 1440.0,465.0 1437.5,472.5 1442.5,482.5 1455.0,487.5 1456.3,495.0 1452.5,505.0 1442.5,512.5 1435.0,522.5 1437.5,530.0 1432.5,537.5 1437.5,547.5 1427.5,555.0 1422.5,567.5 1415.0,575.0 1405.0,580.0 1397.5,587.5 1387.5,597.5 1380.0,610.0 1382.5,620.0 1380.0,630.0 1375.0,642.5 1377.5,657.5 1380.0,670.0 1385.0,677.5 1390.0,690.0 1397.5,702.5 1390.0,710.0 1385.0,715.0 1375.0,725.0 1365.0,735.0 1362.5,747.5 1355.0,755.0 1350.0,762.5 1340.0,767.5 1330.0,770.0 1335.0,780.0 1342.5,792.5 1335.0,800.0 1330.0,805.0 1327.5,812.5 1332.5,817.5 1330.0,825.0 1335.0,832.5 1327.5,837.5 1325.0,845.0 1322.5,855.0 1312.5,862.5 1312.5,872.5 1317.5,882.5 1307.5,887.5 1302.5,895.0 1300.0,902.5 1295.0,910.0 1292.5,920.0 1297.5,930.0 1295.0,940.0 1290.0,947.5 1295.0,957.5 1300.0,967.5 1305.0,975.0 1300.0,982.5 1287.5,990.0 1275.0,995.0 1260.0,1000.0 1250.0,1002.5 1245.0,1007.5 1240.0,1013.0 1237.5,1020.5 1232.5,1033.0 1230.0,1048.0 1227.5,1058.0 1222.5,1065.5 1217.5,1073.0 1222.5,1085.5 1225.0,1100.5 1215.0,1108.0 1212.5,1116.0 807.0,1116.0 803.5,1108.1 798.2,1101.1 796.5,1092.4 794.7,1081.9 800.0,1074.9 807.0,1073.1 815.7,1069.6 819.2,1064.4 819.2,1057.4 815.7,1050.4 807.0,1052.2 801.7,1050.4 796.5,1043.4 787.7,1043.4 782.5,1038.2 780.7,1029.4 777.2,1020.7 768.5,1015.4 763.2,1011.9 761.5,999.7 754.5,996.2 747.5,997.9 740.5,994.4 733.5,985.7 735.2,982.2 733.5,977.0 731.5,985.5 724.0,993.0 716.5,998.0 709.0,988.0 704.0,983.0 696.5,978.0 691.5,977.5 686.5,970.0 679.0,960.0 671.5,950.0 664.0,945.0 659.0,942.5 651.5,945.0 649.0,965.0 634.0,965.0 624.0,967.5 609.0,967.5 594.0,970.0 576.5,965.0 566.5,967.5 559.0,975.0 544.0,975.0 529.0,977.5 516.5,987.5 514.0,992.5 504.0,980.0 494.0,967.5 491.5,955.0 486.5,940.0 479.0,930.0 469.0,925.0 459.0,920.0 449.0,907.5 446.5,890.0 441.5,880.0 434.0,872.5 428.0,860.0 423.0,847.5 418.0,830.0 415.5,820.0 408.0,815.0 398.0,812.5 388.0,822.5 375.5,832.5 363.0,837.5 350.5,827.5 340.5,820.0 343.0,810.0 340.5,800.0 343.0,790.0 353.0,780.0 355.5,767.5 350.5,750.0 348.0,735.0 350.5,720.0 355.5,710.0 358.0,700.0 358.0,690.0 360.5,680.0 363.0,672.5 363.0,663.8 353.0,662.5 343.0,667.5 335.5,660.0 328.0,652.5 320.5,655.0 318.0,647.5 310.5,640.0 303.0,630.0 295.5,620.0 285.5,605.0 275.5,595.0 268.0,585.0 258.0,575.0 248.0,570.0 238.0,565.0 233.0,555.0 225.5,545.0 223.0,535.0 225.5,525.0 223.0,515.0 218.0,505.0 210.5,495.0 203.0,482.5 193.0,472.5 188.0,462.5 180.5,460.0 173.0,457.5 168.0,450.0 165.5,445.0 170.5,435.0 173.0,420.0 174.0,409.0 176.8,399.0 178.0,384.0 188.0,379.0 193.0,374.0 200.5,369.0 200.5,354.0 190.5,349.0 190.5,311.5 205.5,309.0 208.0,304.0 213.0,294.0 218.0,274.0 223.0,251.5 223.0,241.5 213.0,239.0 205.5,229.0 198.0,234.0 188.0,246.5 175.5,246.5 168.0,239.0 163.0,230.0 150.5,229.0 133.0,239.0 130.5,234.0 128.0,211.5 134.0,201.5 128.0,191.5 125.5,174.0 138.0,161.5 148.0,154.0 145.5,139.0"/></clipPath>
</defs>
<g style="mix-blend-mode:multiply"><g mask="url(#beltmask)"><g clip-path="url(#basinclip)"><rect x="38" y="134" width="1508" height="980" filter="url(#relief)"/></g></g></g>
<polyline points="188.0,439.0 200.5,435.0 213.0,430.0 223.0,427.5 228.0,435.0 230.5,450.0 238.0,460.0 243.0,470.0 245.5,475.0 263.0,477.5 278.0,475.0 280.5,457.5 288.0,452.5 303.0,452.5 315.5,457.5 321.8,452.5" fill="none" stroke="#101030" stroke-width="1.1" stroke-linejoin="round" />
<polyline points="328.0,652.0 333.0,645.0 345.5,637.5 363.0,635.0 370.0,633.9 375.9,631.0 381.8,633.9 389.6,633.9 397.5,635.9 402.4,632.9 409.2,633.9" fill="none" stroke="#101030" stroke-width="1.1" stroke-linejoin="round" />
<polyline points="398.0,812.5 400.5,805.0 408.0,792.5 418.0,790.0 420.5,785.0 428.0,782.5 434.0,780.0 441.0,773.0 448.0,760.0" fill="none" stroke="#101030" stroke-width="1.1" stroke-linejoin="round" />
<polyline points="567.9,697.7 572.9,702.7 580.5,707.8 588.1,710.3 595.7,711.6 603.2,712.8 609.5,714.1 615.9,719.1 618.4,725.5 619.6,733.0 618.4,743.1 618.4,752.0 620.9,758.3 628.5,759.5 637.3,758.9 646.2,760.8 647.4,765.9 650.0,767.1 661.3,765.9 667.6,762.1 673.9,757.0 677.7,752.0 687.8,750.7 694.1,755.8 699.2,762.1 703.0,765.0" fill="none" stroke="#101030" stroke-width="1.1" stroke-linejoin="round" />
<polyline points="647.4,765.9 646.2,770.9 643.6,776.0 641.1,781.0 638.6,784.8 639.8,791.1 639.8,800.0 641.1,808.8 637.3,811.3 631.0,813.8 623.4,816.4 619.0,818.0 609.0,822.0 609.0,830.0 611.5,840.0 609.0,855.0 606.5,870.0 606.5,880.0 614.0,895.0 614.0,910.0 609.0,920.0 606.5,930.0 609.0,937.5 624.0,940.0 634.0,945.0 644.0,950.0 649.0,960.0 649.0,965.0" fill="none" stroke="#101030" stroke-width="1.1" stroke-linejoin="round" />
<polyline points="650.0,768.4 651.2,778.5 648.7,788.6 650.0,797.4 655.0,803.7 661.3,810.0 664.0,820.0 654.0,835.0 649.0,845.0 654.0,855.0 659.0,865.0 661.5,885.0 656.5,895.0 654.0,905.0 664.0,910.0 674.0,912.5 684.0,917.5 694.0,917.5 703.0,920.0" fill="none" stroke="#101030" stroke-width="1.1" stroke-linejoin="round" />
<polyline points="569.0,610.0 576.5,600.0 594.0,610.0 609.0,612.5 624.0,615.0 626.0,616.0" fill="none" stroke="#101030" stroke-width="1.1" stroke-linejoin="round" />
<polyline points="793.6,379.1 804.2,374.5 816.2,358.6 822.8,365.2 838.7,367.8 844.0,367.8 856.0,366.5 862.6,373.1 865.2,379.8 862.6,395.7 863.9,402.3 859.9,414.2 858.6,422.2 859.9,435.5 849.3,438.1 838.7,439.4 825.5,442.1 814.8,447.4 800.3,446.1 791.0,440.8 783.0,430.2 784.4,410.3 798.9,406.3 798.9,393.0 793.6,379.1" fill="none" stroke="#101030" stroke-width="1.1" stroke-linejoin="round" />
<polyline points="751.2,446.1 756.5,444.7 769.8,440.8 776.4,435.5 783.0,430.2" fill="none" stroke="#101030" stroke-width="1.1" stroke-linejoin="round" />
<polyline points="859.9,435.5 875.8,435.5 889.1,430.2 897.0,428.8 902.3,431.5 911.6,434.1 913.0,454.0 915.6,459.3 926.2,460.6 931.5,467.3 940.0,476.6" fill="none" stroke="#101030" stroke-width="1.1" stroke-linejoin="round" />
<polyline points="739.0,445.0 744.0,436.0" fill="none" stroke="#101030" stroke-width="1.1" stroke-linejoin="round" />
<g font-family="Liberation Sans,Arial,sans-serif"><text x="652" y="145" font-size="11.5" fill="#333">Medicine Hat</text><text x="522" y="210" font-size="11.5" fill="#333">Lethbridge</text><text x="1494" y="1034" font-size="11.5" fill="#222">Rapid City</text><text x="650" y="1082" font-size="11.5" fill="#333">Grand Teton</text><text x="528" y="1114" font-size="11.5" fill="#222">Idaho Falls</text><text x="228" y="231" font-size="12.0" fill="#1c1cc0">Cranbrook</text><text x="979" y="406" font-size="12.0" fill="#1c1cc0">Malta</text><text x="1148" y="435" font-size="12.0" fill="#1c1cc0">Glasgow</text><text x="1247" y="464" font-size="12.0" fill="#48a83a">WolfPoint</text><text x="1347" y="513" font-size="12.0" fill="#1c1cc0">Sidney</text><text x="1281" y="607" font-size="12.0" fill="#1c1cc0">Glendive</text><text x="672" y="535" font-size="12.0" fill="#1c1cc0">Great Falls</text><text x="345" y="643" font-size="12.0" fill="#1c1cc0">Missoula</text><text x="547" y="698" font-size="12.0" fill="#2a8ac4">Helena</text><text x="959" y="800" font-size="12.0" fill="#48a83a">Billings</text><text x="1257" y="1000" font-size="12.0" fill="#2a8ac4">Gillette</text></g>
<text x="992" y="600.6" font-family="Liberation Serif,serif" font-size="18.5" fill="#000" fill-opacity="0.14" textLength="158.5" lengthAdjust="spacing">MONTANA</text>
<text x="1012.5" y="187.0" font-family="Liberation Sans,Arial,sans-serif" font-size="17.0" fill="#2a2a2a" fill-opacity="1.00" text-anchor="middle" transform="rotate(14.0 1012.5 187.0)" font-style="italic">P</text>
<text x="1052.5" y="193.0" font-family="Liberation Sans,Arial,sans-serif" font-size="17.0" fill="#2a2a2a" fill-opacity="1.00" text-anchor="middle" transform="rotate(14.0 1052.5 193.0)" font-style="italic">L</text>
<text x="1093.8" y="202.0" font-family="Liberation Sans,Arial,sans-serif" font-size="17.0" fill="#2a2a2a" fill-opacity="1.00" text-anchor="middle" transform="rotate(15.0 1093.8 202.0)" font-style="italic">A</text>
<text x="1133.8" y="208.5" font-family="Liberation Sans,Arial,sans-serif" font-size="17.0" fill="#2a2a2a" fill-opacity="1.00" text-anchor="middle" transform="rotate(17.0 1133.8 208.5)" font-style="italic">T</text>
<text x="1173.8" y="221.0" font-family="Liberation Sans,Arial,sans-serif" font-size="17.0" fill="#2a2a2a" fill-opacity="1.00" text-anchor="middle" transform="rotate(19.0 1173.8 221.0)" font-style="italic">E</text>
<text x="1217.5" y="233.0" font-family="Liberation Sans,Arial,sans-serif" font-size="17.0" fill="#2a2a2a" fill-opacity="1.00" text-anchor="middle" transform="rotate(21.0 1217.5 233.0)" font-style="italic">A</text>
<text x="1258.8" y="246.0" font-family="Liberation Sans,Arial,sans-serif" font-size="17.0" fill="#2a2a2a" fill-opacity="1.00" text-anchor="middle" transform="rotate(24.0 1258.8 246.0)" font-style="italic">U</text>
<text x="1332.5" y="279.0" font-family="Liberation Sans,Arial,sans-serif" font-size="17.0" fill="#2a2a2a" fill-opacity="1.00" text-anchor="middle" transform="rotate(30.0 1332.5 279.0)" font-style="italic">D</text>
<text x="1370.0" y="299.0" font-family="Liberation Sans,Arial,sans-serif" font-size="17.0" fill="#2a2a2a" fill-opacity="1.00" text-anchor="middle" transform="rotate(33.0 1370.0 299.0)" font-style="italic">U</text>
<text x="1437.5" y="342.0" font-family="Liberation Sans,Arial,sans-serif" font-size="17.0" fill="#2a2a2a" fill-opacity="1.00" text-anchor="middle" transform="rotate(40.0 1437.5 342.0)" font-style="italic">C</text>
<text x="1472.5" y="366.0" font-family="Liberation Sans,Arial,sans-serif" font-size="17.0" fill="#2a2a2a" fill-opacity="1.00" text-anchor="middle" transform="rotate(42.0 1472.5 366.0)" font-style="italic">O</text>
<text x="1507.5" y="395.0" font-family="Liberation Sans,Arial,sans-serif" font-size="17.0" fill="#2a2a2a" fill-opacity="1.00" text-anchor="middle" transform="rotate(45.0 1507.5 395.0)" font-style="italic">T</text>
<text x="1537.5" y="425.0" font-family="Liberation Sans,Arial,sans-serif" font-size="17.0" fill="#2a2a2a" fill-opacity="1.00" text-anchor="middle" transform="rotate(47.0 1537.5 425.0)" font-style="italic">E</text>
<text x="1425.0" y="577.0" font-family="Liberation Serif,serif" font-size="12.5" fill="#4a4a4a" fill-opacity="1.00" text-anchor="middle" transform="rotate(-52.0 1425.0 577.0)">B</text>
<text x="1436.0" y="564.0" font-family="Liberation Serif,serif" font-size="12.5" fill="#4a4a4a" fill-opacity="1.00" text-anchor="middle" transform="rotate(-52.0 1436.0 564.0)">A</text>
<text x="1450.0" y="542.0" font-family="Liberation Serif,serif" font-size="12.5" fill="#4a4a4a" fill-opacity="1.00" text-anchor="middle" transform="rotate(-52.0 1450.0 542.0)">D</text>
<text x="1462.5" y="527.0" font-family="Liberation Serif,serif" font-size="12.5" fill="#4a4a4a" fill-opacity="1.00" text-anchor="middle" transform="rotate(-52.0 1462.5 527.0)">L</text>
<text x="1477.5" y="507.0" font-family="Liberation Serif,serif" font-size="12.5" fill="#4a4a4a" fill-opacity="1.00" text-anchor="middle" transform="rotate(-52.0 1477.5 507.0)">A</text>
<text x="1492.5" y="492.0" font-family="Liberation Serif,serif" font-size="12.5" fill="#4a4a4a" fill-opacity="1.00" text-anchor="middle" transform="rotate(-52.0 1492.5 492.0)">N</text>
<text x="1510.0" y="475.0" font-family="Liberation Serif,serif" font-size="12.5" fill="#4a4a4a" fill-opacity="1.00" text-anchor="middle" transform="rotate(-52.0 1510.0 475.0)">D</text>
<text x="1525.0" y="460.0" font-family="Liberation Serif,serif" font-size="12.5" fill="#4a4a4a" fill-opacity="1.00" text-anchor="middle" transform="rotate(-52.0 1525.0 460.0)">S</text>
<text x="1411.0" y="978.0" font-family="Liberation Serif,serif" font-size="12.5" fill="#4a4a4a" fill-opacity="1.00" text-anchor="middle" transform="rotate(70.0 1411.0 978.0)">B</text>
<text x="1415.0" y="993.0" font-family="Liberation Serif,serif" font-size="12.5" fill="#4a4a4a" fill-opacity="1.00" text-anchor="middle" transform="rotate(70.0 1415.0 993.0)">L</text>
<text x="1421.0" y="1010.0" font-family="Liberation Serif,serif" font-size="12.5" fill="#4a4a4a" fill-opacity="1.00" text-anchor="middle" transform="rotate(70.0 1421.0 1010.0)">A</text>
<text x="1426.0" y="1028.0" font-family="Liberation Serif,serif" font-size="12.5" fill="#4a4a4a" fill-opacity="1.00" text-anchor="middle" transform="rotate(70.0 1426.0 1028.0)">C</text>
<text x="1434.0" y="1045.0" font-family="Liberation Serif,serif" font-size="12.5" fill="#4a4a4a" fill-opacity="1.00" text-anchor="middle" transform="rotate(70.0 1434.0 1045.0)">K</text>
<text x="1440.0" y="1078.0" font-family="Liberation Serif,serif" font-size="12.5" fill="#4a4a4a" fill-opacity="1.00" text-anchor="middle" transform="rotate(70.0 1440.0 1078.0)">H</text>
<text x="1444.0" y="1090.0" font-family="Liberation Serif,serif" font-size="12.5" fill="#4a4a4a" fill-opacity="1.00" text-anchor="middle" transform="rotate(70.0 1444.0 1090.0)">I</text>
<text x="1446.0" y="1108.0" font-family="Liberation Serif,serif" font-size="12.5" fill="#4a4a4a" fill-opacity="1.00" text-anchor="middle" transform="rotate(70.0 1446.0 1108.0)">L</text>
<text x="1389.0" y="790.0" font-family="Liberation Serif,serif" font-size="10.5" fill="#4a4a4a" fill-opacity="1.00" text-anchor="middle" transform="rotate(68.0 1389.0 790.0)" letter-spacing="1">BLUEMUD</text>
<text x="1362.0" y="815.0" font-family="Liberation Serif,serif" font-size="10.5" fill="#4a4a4a" fill-opacity="1.00" text-anchor="middle" transform="rotate(100.0 1362.0 815.0)" letter-spacing="1">HILLS</text>
<text x="245.5" y="994.5" font-family="Liberation Serif,serif" font-size="16" fill="#2f2f2f" textLength="70" lengthAdjust="spacing">IDAHO</text>
<text x="1267.5" y="1118" font-family="Liberation Serif,serif" font-size="16" fill="#2f2f2f" textLength="112" lengthAdjust="spacing">WYOMING</text>
<text x="1522" y="530" font-family="Liberation Sans,Arial,sans-serif" font-size="12" font-style="italic" fill="#3a6aa8">Lake</text>
<text x="1522" y="545" font-family="Liberation Sans,Arial,sans-serif" font-size="12" font-style="italic" fill="#3a6aa8">Sakakawea</text>
<text x="1087" y="499" font-family="Liberation Sans,Arial,sans-serif" font-size="12" font-style="italic" fill="#1a7a6a" fill-opacity="0.55">Lake</text>
<text x="1087" y="513" font-family="Liberation Sans,Arial,sans-serif" font-size="12" font-style="italic" fill="#1a7a6a" fill-opacity="0.55">Fort Peck</text>
<text x="952.0" y="730.0" font-family="Liberation Sans,Arial,sans-serif" font-size="11.5" fill="#000" fill-opacity="0.12" text-anchor="middle" transform="rotate(-14.0 952.0 730.0)">BULL</text>
<text x="968.0" y="748.0" font-family="Liberation Sans,Arial,sans-serif" font-size="11.5" fill="#000" fill-opacity="0.12" text-anchor="middle" transform="rotate(-14.0 968.0 748.0)">MOUNTAINS</text>
<text x="619" y="980" font-family="Liberation Sans,Arial,sans-serif" font-size="12" fill="#5a7a9c" text-anchor="middle">Source of</text>
<text x="582" y="995" font-family="Liberation Sans,Arial,sans-serif" font-size="12" fill="#5a7a9c" text-anchor="middle">the Missouri-Red Rock</text>
<text x="270.0" y="696.0" font-family="Liberation Sans,Arial,sans-serif" font-size="11.0" fill="#555" fill-opacity="1.00" text-anchor="middle" transform="rotate(-3.0 270.0 696.0)" font-style="italic" letter-spacing="0.5">CLEARWATER</text>
<text x="268.0" y="725.0" font-family="Liberation Sans,Arial,sans-serif" font-size="11.0" fill="#555" fill-opacity="1.00" text-anchor="middle" transform="rotate(3.0 268.0 725.0)" font-style="italic" letter-spacing="0.5">MOUNTAINS</text>
<text x="270.0" y="905.0" font-family="Liberation Sans,Arial,sans-serif" font-size="11.0" fill="#555" fill-opacity="1.00" text-anchor="middle" transform="rotate(18.0 270.0 905.0)" letter-spacing="0.5">RIVER</text>
<text x="337.0" y="917.0" font-family="Liberation Sans,Arial,sans-serif" font-size="11.0" fill="#555" fill-opacity="1.00" text-anchor="middle" transform="rotate(-22.0 337.0 917.0)" letter-spacing="0.5">MOUNTAINS</text>
<text x="272.0" y="1070.0" font-family="Liberation Sans,Arial,sans-serif" font-size="11.0" fill="#555" fill-opacity="1.00" text-anchor="middle" transform="rotate(3.0 272.0 1070.0)" letter-spacing="0.5">MOUNTAINS</text>
<text x="458.0" y="975.0" font-family="Liberation Sans,Arial,sans-serif" font-size="11.0" fill="#555" fill-opacity="1.00" text-anchor="middle" transform="rotate(52.0 458.0 975.0)" letter-spacing="0.8">LEMHI RANGE</text>
<text x="434.0" y="1025.0" font-family="Liberation Sans,Arial,sans-serif" font-size="11.0" fill="#555" fill-opacity="1.00" text-anchor="middle" transform="rotate(55.0 434.0 1025.0)" letter-spacing="0.8">LOST RIVER RANGE</text>
<text x="383.0" y="1070.0" font-family="Liberation Sans,Arial,sans-serif" font-size="11.0" fill="#555" fill-opacity="1.00" text-anchor="middle" transform="rotate(38.0 383.0 1070.0)" letter-spacing="0.8">SAWTOOTH</text>
<text x="372.0" y="1098.0" font-family="Liberation Sans,Arial,sans-serif" font-size="11.0" fill="#555" fill-opacity="1.00" text-anchor="middle" transform="rotate(45.0 372.0 1098.0)" letter-spacing="0.8">MOUNTAINS</text>
<text x="228.0" y="562.0" font-family="Liberation Serif,serif" font-size="15.0" fill="#303030" fill-opacity="0.85" text-anchor="middle" transform="rotate(-18.0 228.0 562.0)">B</text>
<text x="250.0" y="597.0" font-family="Liberation Serif,serif" font-size="15.0" fill="#303030" fill-opacity="0.85" text-anchor="middle" transform="rotate(-18.0 250.0 597.0)">I</text>
<text x="261.0" y="615.0" font-family="Liberation Serif,serif" font-size="15.0" fill="#303030" fill-opacity="0.85" text-anchor="middle" transform="rotate(-18.0 261.0 615.0)">T</text>
<text x="273.0" y="645.0" font-family="Liberation Serif,serif" font-size="15.0" fill="#303030" fill-opacity="0.85" text-anchor="middle" transform="rotate(-18.0 273.0 645.0)">T</text>
<text x="278.0" y="680.0" font-family="Liberation Serif,serif" font-size="15.0" fill="#303030" fill-opacity="0.85" text-anchor="middle" transform="rotate(-18.0 278.0 680.0)">E</text>
<text x="290.0" y="712.0" font-family="Liberation Serif,serif" font-size="15.0" fill="#303030" fill-opacity="0.85" text-anchor="middle" transform="rotate(-18.0 290.0 712.0)">R</text>
<text x="298.0" y="745.0" font-family="Liberation Serif,serif" font-size="15.0" fill="#303030" fill-opacity="0.85" text-anchor="middle" transform="rotate(-18.0 298.0 745.0)">R</text>
<text x="310.0" y="778.0" font-family="Liberation Serif,serif" font-size="15.0" fill="#303030" fill-opacity="0.85" text-anchor="middle" transform="rotate(-18.0 310.0 778.0)">O</text>
<text x="320.0" y="810.0" font-family="Liberation Serif,serif" font-size="15.0" fill="#303030" fill-opacity="0.85" text-anchor="middle" transform="rotate(-18.0 320.0 810.0)">O</text>
<text x="328.0" y="843.0" font-family="Liberation Serif,serif" font-size="15.0" fill="#303030" fill-opacity="0.85" text-anchor="middle" transform="rotate(-18.0 328.0 843.0)">T</text>
<text x="345.0" y="903.0" font-family="Liberation Serif,serif" font-size="15.0" fill="#303030" fill-opacity="0.85" text-anchor="middle" transform="rotate(-18.0 345.0 903.0)">R</text>
<text x="357.0" y="933.0" font-family="Liberation Serif,serif" font-size="15.0" fill="#303030" fill-opacity="0.85" text-anchor="middle" transform="rotate(-18.0 357.0 933.0)">A</text>
<text x="368.0" y="965.0" font-family="Liberation Serif,serif" font-size="15.0" fill="#303030" fill-opacity="0.85" text-anchor="middle" transform="rotate(-18.0 368.0 965.0)">N</text>
<text x="382.0" y="998.0" font-family="Liberation Serif,serif" font-size="15.0" fill="#303030" fill-opacity="0.85" text-anchor="middle" transform="rotate(-18.0 382.0 998.0)">G</text>
<text x="395.0" y="1028.0" font-family="Liberation Serif,serif" font-size="15.0" fill="#303030" fill-opacity="0.85" text-anchor="middle" transform="rotate(-18.0 395.0 1028.0)">E</text>
<text x="42.4" y="176.0" font-family="Liberation Sans,Arial,sans-serif" font-size="12.0" fill="#333" fill-opacity="1.00" text-anchor="middle" transform="rotate(80.0 42.4 176.0)">N</text>
<text x="46.8" y="191.0" font-family="Liberation Sans,Arial,sans-serif" font-size="12.0" fill="#333" fill-opacity="1.00" text-anchor="middle" transform="rotate(80.0 46.8 191.0)">T</text>
<text x="46.8" y="208.0" font-family="Liberation Sans,Arial,sans-serif" font-size="12.0" fill="#333" fill-opacity="1.00" text-anchor="middle" transform="rotate(80.0 46.8 208.0)">A</text>
<text x="46.8" y="224.0" font-family="Liberation Sans,Arial,sans-serif" font-size="12.0" fill="#333" fill-opacity="1.00" text-anchor="middle" transform="rotate(80.0 46.8 224.0)">I</text>
<text x="50.5" y="240.0" font-family="Liberation Sans,Arial,sans-serif" font-size="12.0" fill="#333" fill-opacity="1.00" text-anchor="middle" transform="rotate(80.0 50.5 240.0)">N</text>
<text x="52.0" y="256.0" font-family="Liberation Sans,Arial,sans-serif" font-size="12.0" fill="#333" fill-opacity="1.00" text-anchor="middle" transform="rotate(80.0 52.0 256.0)">S</text>
<text x="121.8" y="157.0" font-family="Liberation Sans,Arial,sans-serif" font-size="12.0" fill="#333" fill-opacity="1.00" text-anchor="middle" transform="rotate(-60.0 121.8 157.0)">I</text>
<text x="204.0" y="264.0" font-family="Liberation Sans,Arial,sans-serif" font-size="12.0" fill="#333" fill-opacity="1.00" text-anchor="middle" transform="rotate(90.0 204.0 264.0)">O</text>
<circle cx="51" cy="514" r="2" fill="#111"/><text x="47" y="518" font-family="Liberation Sans,Arial,sans-serif" font-size="11" fill="#333" text-anchor="end">Spokane</text>
<text x="35" y="711" font-family="Liberation Sans,Arial,sans-serif" font-size="11" fill="#333">Lewiston</text>
<circle cx="733" cy="150" r="2" fill="#111"/><circle cx="1485.8" cy="1033" r="2.2" fill="#111"/><circle cx="1256" cy="1003.8" r="2" fill="#111"/>
<circle cx="216" cy="229" r="1.8" fill="#1a1a90"/><circle cx="1016.5" cy="408" r="1.8" fill="#1a1a90"/>
<text x="552.0" y="282.0" font-family="Liberation Sans,Arial,sans-serif" font-size="12.5" fill="#000" fill-opacity="0.13" text-anchor="middle" transform="rotate(12.0 552.0 282.0)" letter-spacing="2">RIVER RIDGE</text>
<text x="316" y="433" font-family="Liberation Sans,Arial,sans-serif" font-size="12" fill="#000" fill-opacity="0.13">Kalispell</text><circle cx="365.5" cy="433" r="1.8" fill="#000" fill-opacity="0.2"/>
<text x="377" y="486" font-family="Liberation Sans,Arial,sans-serif" font-size="12" font-style="italic" fill="#000" fill-opacity="0.1">Lake</text>
<polyline points="325.5,134.0 330.5,151.5 328.0,184.0 331.8,206.5 324.0,216.5 335.5,229.0 338.0,241.5 338.0,244.0 345.5,256.5 353.0,269.0 360.5,279.0 373.0,281.5 383.0,284.0 388.0,299.0 390.5,309.0 395.5,329.0 403.0,336.5 420.5,336.5 425.5,351.5 426.8,371.5 434.0,374.0 449.0,374.0" fill="none" stroke="#00005a" stroke-width="2.0" stroke-linejoin="round" />
<polyline points="449.0,374.0 451.5,384.0 454.0,394.0 459.0,404.0 464.0,409.0 467.0,420.0 476.5,432.0 489.0,440.0 501.5,447.5 504.0,455.0 509.0,462.5 506.5,467.5 491.5,472.5 494.0,485.0 487.8,500.0 486.5,510.0 486.5,525.0 494.0,535.0 501.5,545.0 504.0,555.0 509.0,565.0" fill="none" stroke="#00005a" stroke-width="2.0" stroke-linejoin="round" />
<polyline points="733.5,977.0 735.2,982.2 733.5,985.7 740.5,994.4 747.5,997.9 754.5,996.2 761.5,999.7 763.2,1011.9 768.5,1015.4 777.2,1020.7 780.7,1029.4 782.5,1038.2 787.7,1043.4 796.5,1043.4 801.7,1050.4 807.0,1052.2 815.7,1050.4 819.2,1057.4 819.2,1064.4 815.7,1069.6 807.0,1073.1 800.0,1074.9 794.7,1081.9 796.5,1092.4 798.2,1101.1 803.5,1108.1 807.0,1116.0" fill="none" stroke="#00005a" stroke-width="2.0" stroke-linejoin="round" />
<polyline points="433.0,134.0 438.0,144.0 449.0,149.0 453.0,161.5 456.5,164.0 471.5,161.5 484.0,169.0 490.5,179.0" fill="none" stroke="#0a14e6" stroke-width="1.6" stroke-linejoin="round" />
<polyline points="1155.0,270.3 1165.0,271.5 1185.0,266.5 1190.0,255.3 1200.0,251.5 1210.0,256.5 1217.5,249.0 1247.5,256.5 1250.0,265.3 1267.5,276.5 1270.0,282.8 1281.3,281.5 1286.3,264.0 1300.0,262.8 1315.0,262.8 1325.0,257.8 1328.8,244.0 1335.0,241.5 1340.0,261.5 1345.0,269.0 1365.0,269.0 1380.0,274.0 1397.5,274.0 1407.5,284.0 1405.0,296.5 1422.5,299.0 1432.5,314.0 1435.0,329.0 1447.5,334.0 1450.0,346.5 1465.0,359.0 1477.5,361.5 1492.5,346.5 1505.0,344.0 1510.0,349.0 1520.0,344.0 1546.0,346.5" fill="none" stroke="#0a14e6" stroke-width="1.6" stroke-linejoin="round" />
<polyline points="1328.8,244.0 1330.0,234.0 1330.0,224.0 1337.5,216.5 1357.5,209.0 1365.0,206.5 1372.5,216.5 1385.0,217.8 1390.0,209.0 1402.5,199.0 1397.5,191.5 1380.0,179.0 1372.5,169.0 1360.0,159.0 1357.5,139.0 1367.5,134.0" fill="none" stroke="#0a14e6" stroke-width="1.6" stroke-linejoin="round" />
<polyline points="1385.0,134.0 1397.5,136.5 1415.0,146.5 1427.5,154.0 1437.5,161.5 1447.5,166.5 1455.0,159.0 1450.0,146.5 1455.0,134.0" fill="none" stroke="#0a14e6" stroke-width="1.6" stroke-linejoin="round" />
<polyline points="1522.5,134.0 1525.0,149.0 1527.5,159.0 1535.0,166.5 1537.5,159.0 1546.0,157.8" fill="none" stroke="#0a14e6" stroke-width="1.6" stroke-linejoin="round" />
<polyline points="190.0,465.0 190.0,310.0 1403.5,310.0 1403.5,903.5 695.0,903.5 695.0,978.0" fill="none" stroke="#000" stroke-width="2.2" stroke-linejoin="round" />
<polyline points="190.0,465.0 200.5,480.0 210.5,495.0 218.0,505.0 223.0,515.0 225.5,525.0 223.0,535.0 225.5,545.0 233.0,555.0 238.0,565.0 248.0,570.0 258.0,575.0 268.0,585.0 275.5,595.0 285.5,605.0 295.5,620.0 303.0,630.0 310.5,640.0 318.0,647.5 320.5,655.0 328.0,652.5 335.5,660.0 343.0,667.5 353.0,662.5 363.0,663.8 363.0,672.5 360.5,680.0 358.0,690.0 358.0,700.0 355.5,710.0 350.5,720.0 348.0,735.0 350.5,750.0 355.5,767.5 353.0,780.0 343.0,790.0 340.5,800.0 343.0,810.0 340.5,820.0 350.5,827.5 363.0,837.5 375.5,832.5 388.0,822.5 398.0,812.5 408.0,815.0 415.5,820.0 418.0,830.0 423.0,847.5 428.0,860.0 434.0,872.5 441.5,880.0 446.5,890.0 449.0,907.5 459.0,920.0 469.0,925.0 479.0,930.0 486.5,940.0 491.5,955.0 494.0,967.5 504.0,980.0 514.0,992.5 516.5,987.5 529.0,977.5 544.0,975.0 559.0,975.0 566.5,967.5 576.5,965.0 594.0,970.0 609.0,967.5 624.0,967.5 634.0,965.0 649.0,965.0 651.5,945.0 659.0,942.5 664.0,945.0 671.5,950.0 679.0,960.0 686.5,970.0 691.5,977.5 695.0,978.0" fill="none" stroke="#000" stroke-width="2.2" stroke-linejoin="round" />
<g fill="none" stroke="#1a1a2a" stroke-width="0.9"><circle cx="289.0" cy="235.0" r="5.8"/><line x1="283.2" y1="235.0" x2="294.8" y2="235.0"/></g>
<circle cx="200.0" cy="314.5" r="6" fill="#f2e21a" stroke="#1a1a1a" stroke-width="1"/>
<circle cx="214.0" cy="314.5" r="6" fill="#0a0af0" stroke="#1a1a1a" stroke-width="1"/>
<g fill="none" stroke="#1a1a2a" stroke-width="0.9"><circle cx="289.0" cy="326.0" r="5.8"/><line x1="283.2" y1="326.0" x2="294.8" y2="326.0"/></g>
<circle cx="309.0" cy="324.5" r="6" fill="#0a0af0" stroke="#1a1a1a" stroke-width="1"/>
<circle cx="320.5" cy="324.5" r="6" fill="#2aa8e6" stroke="#1a1a1a" stroke-width="1"/>
<g fill="none" stroke="#1a1a2a" stroke-width="0.9"><circle cx="330.0" cy="360.0" r="5.8"/><line x1="325.9" y1="355.9" x2="334.1" y2="364.1"/><line x1="325.9" y1="364.1" x2="334.1" y2="355.9"/></g>
<circle cx="251.0" cy="376.0" r="6" fill="#0a0af0" stroke="#1a1a1a" stroke-width="1"/>
<circle cx="187.0" cy="416.5" r="6" fill="#0a0af0" stroke="#1a1a1a" stroke-width="1"/>
<circle cx="312.5" cy="416.5" r="6" fill="#0a0af0" stroke="#1a1a1a" stroke-width="1"/>
<circle cx="412.0" cy="341.0" r="6" fill="#f2e21a" stroke="#1a1a1a" stroke-width="1"/>
<circle cx="430.0" cy="341.0" r="6" fill="#f0a02a" stroke="#1a1a1a" stroke-width="1"/>
<circle cx="399.0" cy="386.5" r="6" fill="#f2e21a" stroke="#1a1a1a" stroke-width="1"/>
<circle cx="404.0" cy="396.0" r="6" fill="#f2e21a" stroke="#1a1a1a" stroke-width="1"/>
<circle cx="396.0" cy="410.0" r="6" fill="#2aa8e6" stroke="#1a1a1a" stroke-width="1"/>
<circle cx="371.0" cy="416.5" r="6" fill="#52e01a" stroke="#1a1a1a" stroke-width="1"/>
<circle cx="402.0" cy="438.0" r="6" fill="#8ef6e6" stroke="#1a1a1a" stroke-width="1"/>
<g fill="none" stroke="#1a1a2a" stroke-width="0.9"><circle cx="345.5" cy="432.0" r="5.8"/><line x1="341.4" y1="427.9" x2="349.6" y2="436.1"/><line x1="341.4" y1="436.1" x2="349.6" y2="427.9"/></g>
<g fill="none" stroke="#1a1a2a" stroke-width="0.9"><circle cx="660.0" cy="314.0" r="5.8"/><line x1="654.2" y1="314.0" x2="665.8" y2="314.0"/></g>
<circle cx="779.5" cy="309.8" r="6" fill="#0a0af0" stroke="#1a1a1a" stroke-width="1"/>
<g fill="none" stroke="#1a1a2a" stroke-width="0.9"><circle cx="741.5" cy="333.0" r="5.8"/><line x1="737.4" y1="328.9" x2="745.6" y2="337.1"/><line x1="737.4" y1="337.1" x2="745.6" y2="328.9"/></g>
<g fill="none" stroke="#1a1a2a" stroke-width="0.9"><circle cx="756.0" cy="352.0" r="5.8"/><line x1="750.2" y1="352.0" x2="761.8" y2="352.0"/></g>
<g fill="none" stroke="#1a1a2a" stroke-width="0.9"><circle cx="771.5" cy="377.0" r="5.8"/><line x1="765.7" y1="377.0" x2="777.3" y2="377.0"/></g>
<g fill="none" stroke="#1a1a2a" stroke-width="0.9"><circle cx="724.0" cy="377.0" r="5.8"/><line x1="718.2" y1="377.0" x2="729.8" y2="377.0"/></g>
<circle cx="561.0" cy="371.0" r="6" fill="#ee1010" stroke="#1a1a1a" stroke-width="1"/>
<g fill="none" stroke="#1a1a2a" stroke-width="0.9"><circle cx="587.8" cy="377.0" r="5.8"/><line x1="583.7" y1="372.9" x2="591.9" y2="381.1"/><line x1="583.7" y1="381.1" x2="591.9" y2="372.9"/></g>
<circle cx="614.5" cy="385.0" r="6" fill="#8ef6e6" stroke="#1a1a1a" stroke-width="1"/>
<circle cx="704.0" cy="385.0" r="6" fill="#0a0af0" stroke="#1a1a1a" stroke-width="1"/>
<g fill="none" stroke="#1a1a2a" stroke-width="0.9"><circle cx="682.0" cy="396.0" r="5.8"/><line x1="677.9" y1="391.9" x2="686.1" y2="400.1"/><line x1="677.9" y1="400.1" x2="686.1" y2="391.9"/></g>
<g fill="none" stroke="#1a1a2a" stroke-width="0.9"><circle cx="476.5" cy="394.5" r="5.8"/><line x1="470.7" y1="394.5" x2="482.3" y2="394.5"/></g>
<g fill="none" stroke="#1a1a2a" stroke-width="0.9"><circle cx="465.0" cy="416.5" r="5.8"/><line x1="460.9" y1="412.4" x2="469.1" y2="420.6"/><line x1="460.9" y1="420.6" x2="469.1" y2="412.4"/></g>
<g fill="none" stroke="#1a1a2a" stroke-width="0.9"><circle cx="608.5" cy="416.5" r="5.8"/><line x1="604.4" y1="412.4" x2="612.6" y2="420.6"/><line x1="604.4" y1="420.6" x2="612.6" y2="412.4"/></g>
<circle cx="605.0" cy="436.5" r="6" fill="#0a0af0" stroke="#1a1a1a" stroke-width="1"/>
<circle cx="821.5" cy="386.5" r="6" fill="#0a0af0" stroke="#1a1a1a" stroke-width="1"/>
<circle cx="825.0" cy="380.0" r="6" fill="#0a0af0" stroke="#1a1a1a" stroke-width="1"/>
<circle cx="964.5" cy="310.0" r="6" fill="#0a0af0" stroke="#1a1a1a" stroke-width="1"/>
<g fill="none" stroke="#1a1a2a" stroke-width="0.9"><circle cx="880.0" cy="372.8" r="5.8"/><line x1="874.2" y1="372.8" x2="885.8" y2="372.8"/></g>
<circle cx="1032.5" cy="402.8" r="6" fill="#f0a02a" stroke="#1a1a1a" stroke-width="1"/>
<g fill="none" stroke="#1a1a2a" stroke-width="0.9"><circle cx="1175.5" cy="356.5" r="5.8"/><line x1="1169.7" y1="356.5" x2="1181.3" y2="356.5"/></g>
<circle cx="1143.8" cy="430.0" r="6" fill="#8ef6e6" stroke="#1a1a1a" stroke-width="1"/>
<circle cx="837.5" cy="435.0" r="6" fill="#0a0af0" stroke="#1a1a1a" stroke-width="1"/>
<circle cx="837.5" cy="449.5" r="6" fill="#0a0af0" stroke="#1a1a1a" stroke-width="1"/>
<g fill="none" stroke="#1a1a2a" stroke-width="0.9"><circle cx="796.0" cy="441.0" r="5.8"/><line x1="790.2" y1="441.0" x2="801.8" y2="441.0"/></g>
<circle cx="1355.5" cy="440.0" r="6" fill="#52e01a" stroke="#1a1a1a" stroke-width="1"/>
<circle cx="1241.0" cy="448.0" r="6" fill="#52e01a" stroke="#1a1a1a" stroke-width="1"/>
<circle cx="1164.0" cy="460.5" r="6" fill="#52e01a" stroke="#1a1a1a" stroke-width="1"/>
<g fill="none" stroke="#1a1a2a" stroke-width="0.9"><circle cx="1269.5" cy="480.8" r="5.8"/><line x1="1263.7" y1="480.8" x2="1275.3" y2="480.8"/></g>
<g fill="none" stroke="#1a1a2a" stroke-width="0.9"><circle cx="1383.8" cy="496.0" r="5.8"/><line x1="1379.7" y1="491.9" x2="1387.9" y2="500.1"/><line x1="1379.7" y1="500.1" x2="1387.9" y2="491.9"/></g>
<circle cx="1393.8" cy="503.0" r="6" fill="#2aa8e6" stroke="#1a1a1a" stroke-width="1"/>
<g fill="none" stroke="#1a1a2a" stroke-width="0.9"><circle cx="1374.5" cy="545.0" r="5.8"/><line x1="1368.7" y1="545.0" x2="1380.3" y2="545.0"/></g>
<circle cx="1247.5" cy="551.8" r="6" fill="#f2e21a" stroke="#1a1a1a" stroke-width="1"/>
<circle cx="1289.0" cy="579.5" r="6" fill="#0a0af0" stroke="#1a1a1a" stroke-width="1"/>
<circle cx="1335.0" cy="597.0" r="6" fill="#0a0af0" stroke="#1a1a1a" stroke-width="1"/>
<circle cx="1355.5" cy="697.5" r="6" fill="#f2e21a" stroke="#1a1a1a" stroke-width="1"/>
<circle cx="1217.5" cy="697.5" r="6" fill="#0a0af0" stroke="#1a1a1a" stroke-width="1"/>
<circle cx="1277.0" cy="717.5" r="6" fill="#0a0af0" stroke="#1a1a1a" stroke-width="1"/>
<g fill="none" stroke="#1a1a2a" stroke-width="0.9"><circle cx="1052.5" cy="451.0" r="5.8"/><line x1="1046.7" y1="451.0" x2="1058.3" y2="451.0"/></g>
<g fill="none" stroke="#1a1a2a" stroke-width="0.9"><circle cx="1091.0" cy="534.5" r="5.8"/><line x1="1086.9" y1="530.4" x2="1095.1" y2="538.6"/><line x1="1086.9" y1="538.6" x2="1095.1" y2="530.4"/></g>
<g fill="none" stroke="#1a1a2a" stroke-width="0.9"><circle cx="1080.8" cy="550.0" r="5.8"/><line x1="1075.0" y1="550.0" x2="1086.6" y2="550.0"/></g>
<circle cx="1143.8" cy="603.0" r="6" fill="#f2e21a" stroke="#1a1a1a" stroke-width="1"/>
<circle cx="856.0" cy="605.0" r="6" fill="#0a0af0" stroke="#1a1a1a" stroke-width="1"/>
<circle cx="922.5" cy="608.0" r="6" fill="#0a0af0" stroke="#1a1a1a" stroke-width="1"/>
<circle cx="860.8" cy="627.0" r="6" fill="#0a0af0" stroke="#1a1a1a" stroke-width="1"/>
<circle cx="852.0" cy="644.0" r="6" fill="#52e01a" stroke="#1a1a1a" stroke-width="1"/>
<circle cx="966.0" cy="638.0" r="6" fill="#0a0af0" stroke="#1a1a1a" stroke-width="1"/>
<g fill="none" stroke="#1a1a2a" stroke-width="0.9"><circle cx="1022.5" cy="610.0" r="5.8"/><line x1="1016.7" y1="610.0" x2="1028.3" y2="610.0"/></g>
<g fill="none" stroke="#1a1a2a" stroke-width="0.9"><circle cx="854.5" cy="669.0" r="5.8"/><line x1="848.7" y1="669.0" x2="860.3" y2="669.0"/></g>
<circle cx="868.8" cy="681.8" r="6" fill="#0a0af0" stroke="#1a1a1a" stroke-width="1"/>
<g fill="none" stroke="#1a1a2a" stroke-width="0.9"><circle cx="1016.0" cy="670.8" r="5.8"/><line x1="1010.2" y1="670.8" x2="1021.8" y2="670.8"/></g>
<circle cx="1082.5" cy="716.0" r="6" fill="#8ef6e6" stroke="#1a1a1a" stroke-width="1"/>
<circle cx="1137.5" cy="718.8" r="6" fill="#52e01a" stroke="#1a1a1a" stroke-width="1"/>
<g fill="none" stroke="#1a1a2a" stroke-width="0.9"><circle cx="826.5" cy="659.0" r="5.8"/><line x1="820.7" y1="659.0" x2="832.3" y2="659.0"/></g>
<g fill="none" stroke="#1a1a2a" stroke-width="0.9"><circle cx="816.5" cy="696.0" r="5.8"/><line x1="810.7" y1="696.0" x2="822.3" y2="696.0"/></g>
<circle cx="496.5" cy="443.0" r="6" fill="#f0a02a" stroke="#1a1a1a" stroke-width="1"/>
<circle cx="523.0" cy="452.5" r="6" fill="#f0a02a" stroke="#1a1a1a" stroke-width="1"/>
<circle cx="517.0" cy="474.5" r="6" fill="#8ef6e6" stroke="#1a1a1a" stroke-width="1"/>
<circle cx="521.5" cy="474.5" r="6" fill="#f2e21a" stroke="#1a1a1a" stroke-width="1"/>
<circle cx="674.0" cy="451.0" r="6" fill="#0a0af0" stroke="#1a1a1a" stroke-width="1"/>
<circle cx="579.8" cy="490.5" r="6" fill="#0a0af0" stroke="#1a1a1a" stroke-width="1"/>
<g fill="none" stroke="#1a1a2a" stroke-width="0.9"><circle cx="678.5" cy="493.0" r="5.8"/><line x1="672.7" y1="493.0" x2="684.3" y2="493.0"/></g>
<g fill="none" stroke="#1a1a2a" stroke-width="0.9"><circle cx="523.0" cy="523.0" r="5.8"/><line x1="517.2" y1="523.0" x2="528.8" y2="523.0"/></g>
<g fill="none" stroke="#1a1a2a" stroke-width="0.9"><circle cx="602.0" cy="520.0" r="5.8"/><line x1="596.2" y1="520.0" x2="607.8" y2="520.0"/></g>
<circle cx="517.0" cy="545.0" r="6" fill="#f0a02a" stroke="#1a1a1a" stroke-width="1"/>
<circle cx="627.0" cy="540.5" r="6" fill="#2aa8e6" stroke="#1a1a1a" stroke-width="1"/>
<circle cx="661.5" cy="542.0" r="6" fill="#f0a02a" stroke="#1a1a1a" stroke-width="1"/>
<circle cx="735.0" cy="488.8" r="6" fill="#0a0af0" stroke="#1a1a1a" stroke-width="1"/>
<g fill="none" stroke="#1a1a2a" stroke-width="0.9"><circle cx="751.0" cy="473.0" r="5.8"/><line x1="745.2" y1="473.0" x2="756.8" y2="473.0"/></g>
<g fill="none" stroke="#1a1a2a" stroke-width="0.9"><circle cx="734.0" cy="516.0" r="5.8"/><line x1="728.2" y1="516.0" x2="739.8" y2="516.0"/></g>
<g fill="none" stroke="#1a1a2a" stroke-width="0.9"><circle cx="743.5" cy="532.5" r="5.8"/><line x1="737.7" y1="532.5" x2="749.3" y2="532.5"/></g>
<circle cx="779.5" cy="589.0" r="6" fill="#f2e21a" stroke="#1a1a1a" stroke-width="1"/>
<g fill="none" stroke="#1a1a2a" stroke-width="0.9"><circle cx="807.8" cy="603.8" r="5.8"/><line x1="803.7" y1="599.7" x2="811.9" y2="607.9"/><line x1="803.7" y1="607.9" x2="811.9" y2="599.7"/></g>
<circle cx="709.0" cy="623.0" r="6" fill="#f2e21a" stroke="#1a1a1a" stroke-width="1"/>
<circle cx="714.5" cy="625.0" r="6" fill="#f2e21a" stroke="#1a1a1a" stroke-width="1"/>
<g fill="none" stroke="#1a1a2a" stroke-width="0.9"><circle cx="683.0" cy="630.0" r="5.8"/><line x1="677.2" y1="630.0" x2="688.8" y2="630.0"/></g>
<circle cx="739.5" cy="644.0" r="6" fill="#52e01a" stroke="#1a1a1a" stroke-width="1"/>
<circle cx="734.0" cy="642.5" r="6" fill="#f0a02a" stroke="#1a1a1a" stroke-width="1"/>
<circle cx="768.0" cy="661.0" r="6" fill="#f0a02a" stroke="#1a1a1a" stroke-width="1"/>
<g fill="none" stroke="#1a1a2a" stroke-width="0.9"><circle cx="446.0" cy="580.0" r="5.8"/><line x1="440.2" y1="580.0" x2="451.8" y2="580.0"/></g>
<g fill="none" stroke="#1a1a2a" stroke-width="0.9"><circle cx="570.5" cy="584.0" r="5.8"/><line x1="564.7" y1="584.0" x2="576.3" y2="584.0"/></g>
<circle cx="526.5" cy="600.0" r="6" fill="#52e01a" stroke="#1a1a1a" stroke-width="1"/>
<circle cx="539.0" cy="603.8" r="6" fill="#f2e21a" stroke="#1a1a1a" stroke-width="1"/>
<circle cx="598.5" cy="614.5" r="6" fill="#2aa8e6" stroke="#1a1a1a" stroke-width="1"/>
<circle cx="466.5" cy="630.5" r="6" fill="#52e01a" stroke="#1a1a1a" stroke-width="1"/>
<circle cx="548.5" cy="636.5" r="6" fill="#0a0af0" stroke="#1a1a1a" stroke-width="1"/>
<circle cx="459.0" cy="690.5" r="6" fill="#8ef6e6" stroke="#1a1a1a" stroke-width="1"/>
<circle cx="456.0" cy="699.0" r="6" fill="#0a0af0" stroke="#1a1a1a" stroke-width="1"/>
<g fill="none" stroke="#1a1a2a" stroke-width="0.9"><circle cx="518.5" cy="702.5" r="5.8"/><line x1="514.4" y1="698.4" x2="522.6" y2="706.6"/><line x1="514.4" y1="706.6" x2="522.6" y2="698.4"/></g>
<g fill="none" stroke="#1a1a2a" stroke-width="0.9"><circle cx="468.5" cy="713.0" r="5.8"/><line x1="462.7" y1="713.0" x2="474.3" y2="713.0"/></g>
<circle cx="482.8" cy="719.0" r="6" fill="#0a0af0" stroke="#1a1a1a" stroke-width="1"/>
<circle cx="579.8" cy="696.0" r="6" fill="#0a0af0" stroke="#1a1a1a" stroke-width="1"/>
<circle cx="573.5" cy="707.0" r="6" fill="#0a0af0" stroke="#1a1a1a" stroke-width="1"/>
<circle cx="614.0" cy="708.8" r="6" fill="#0a0af0" stroke="#1a1a1a" stroke-width="1"/>
<circle cx="655.0" cy="715.0" r="6" fill="#8ef6e6" stroke="#1a1a1a" stroke-width="1"/>
<circle cx="670.0" cy="677.5" r="6" fill="#8ef6e6" stroke="#1a1a1a" stroke-width="1"/>
<circle cx="600.0" cy="671.0" r="6" fill="#0a0af0" stroke="#1a1a1a" stroke-width="1"/>
<g fill="none" stroke="#1a1a2a" stroke-width="0.9"><circle cx="729.0" cy="690.0" r="5.8"/><line x1="723.2" y1="690.0" x2="734.8" y2="690.0"/></g>
<circle cx="171.8" cy="454.5" r="6" fill="#f0a02a" stroke="#1a1a1a" stroke-width="1"/>
<circle cx="195.5" cy="451.0" r="6" fill="#0a0af0" stroke="#1a1a1a" stroke-width="1"/>
<g fill="none" stroke="#1a1a2a" stroke-width="0.9"><circle cx="189.0" cy="449.5" r="5.8"/><line x1="183.2" y1="449.5" x2="194.8" y2="449.5"/></g>
<circle cx="233.0" cy="443.0" r="6" fill="#f2e21a" stroke="#1a1a1a" stroke-width="1"/>
<g fill="none" stroke="#1a1a2a" stroke-width="0.9"><circle cx="226.8" cy="452.5" r="5.8"/><line x1="222.7" y1="448.4" x2="230.9" y2="456.6"/><line x1="222.7" y1="456.6" x2="230.9" y2="448.4"/></g>
<g fill="none" stroke="#1a1a2a" stroke-width="0.9"><circle cx="275.0" cy="469.0" r="5.8"/><line x1="269.2" y1="469.0" x2="280.8" y2="469.0"/></g>
<g fill="none" stroke="#1a1a2a" stroke-width="0.9"><circle cx="233.0" cy="482.5" r="5.8"/><line x1="227.2" y1="482.5" x2="238.8" y2="482.5"/></g>
<g fill="none" stroke="#1a1a2a" stroke-width="0.9"><circle cx="321.0" cy="484.0" r="5.8"/><line x1="316.9" y1="479.9" x2="325.1" y2="488.1"/><line x1="316.9" y1="488.1" x2="325.1" y2="479.9"/></g>
<circle cx="214.0" cy="529.5" r="6" fill="#f0a02a" stroke="#1a1a1a" stroke-width="1"/>
<circle cx="218.5" cy="533.0" r="6" fill="#f2e21a" stroke="#1a1a1a" stroke-width="1"/>
<circle cx="225.0" cy="544.0" r="6" fill="#f2e21a" stroke="#1a1a1a" stroke-width="1"/>
<circle cx="259.8" cy="523.8" r="6" fill="#0a0af0" stroke="#1a1a1a" stroke-width="1"/>
<circle cx="361.8" cy="465.0" r="6" fill="#0a0af0" stroke="#1a1a1a" stroke-width="1"/>
<circle cx="373.0" cy="510.5" r="6" fill="#0a0af0" stroke="#1a1a1a" stroke-width="1"/>
<circle cx="398.0" cy="510.5" r="6" fill="#0a0af0" stroke="#1a1a1a" stroke-width="1"/>
<circle cx="420.0" cy="548.0" r="6" fill="#f2e21a" stroke="#1a1a1a" stroke-width="1"/>
<circle cx="423.0" cy="571.8" r="6" fill="#ee1010" stroke="#1a1a1a" stroke-width="1"/>
<circle cx="363.5" cy="585.8" r="6" fill="#2aa8e6" stroke="#1a1a1a" stroke-width="1"/>
<circle cx="292.5" cy="615.5" r="6" fill="#0a0af0" stroke="#1a1a1a" stroke-width="1"/>
<circle cx="405.5" cy="612.5" r="6" fill="#0a0af0" stroke="#1a1a1a" stroke-width="1"/>
<circle cx="388.0" cy="623.8" r="6" fill="#0a0af0" stroke="#1a1a1a" stroke-width="1"/>
<circle cx="339.8" cy="666.0" r="6" fill="#f2e21a" stroke="#1a1a1a" stroke-width="1"/>
<g fill="none" stroke="#1a1a2a" stroke-width="0.9"><circle cx="388.0" cy="683.8" r="5.8"/><line x1="382.2" y1="683.8" x2="393.8" y2="683.8"/></g>
<circle cx="420.5" cy="722.5" r="6" fill="#0a0af0" stroke="#1a1a1a" stroke-width="1"/>
<circle cx="345.5" cy="738.0" r="6" fill="#0a0af0" stroke="#1a1a1a" stroke-width="1"/>
<circle cx="352.5" cy="738.0" r="6" fill="#0a0af0" stroke="#1a1a1a" stroke-width="1"/>
<circle cx="412.0" cy="733.0" r="6" fill="#0a0af0" stroke="#1a1a1a" stroke-width="1"/>
<g fill="none" stroke="#1a1a2a" stroke-width="0.9"><circle cx="380.5" cy="755.0" r="5.8"/><line x1="374.7" y1="755.0" x2="386.3" y2="755.0"/></g>
<circle cx="349.0" cy="797.5" r="6" fill="#0a0af0" stroke="#1a1a1a" stroke-width="1"/>
<circle cx="401.8" cy="805.5" r="6" fill="#0a0af0" stroke="#1a1a1a" stroke-width="1"/>
<circle cx="467.3" cy="740.0" r="6" fill="#0a0af0" stroke="#1a1a1a" stroke-width="1"/>
<circle cx="486.0" cy="744.0" r="6" fill="#0a0af0" stroke="#1a1a1a" stroke-width="1"/>
<circle cx="548.5" cy="763.0" r="6" fill="#8ef6e6" stroke="#1a1a1a" stroke-width="1"/>
<circle cx="465.3" cy="776.0" r="6" fill="#2aa8e6" stroke="#1a1a1a" stroke-width="1"/>
<circle cx="499.8" cy="787.0" r="6" fill="#0a0af0" stroke="#1a1a1a" stroke-width="1"/>
<circle cx="547.0" cy="788.8" r="6" fill="#ee1010" stroke="#1a1a1a" stroke-width="1"/>
<g fill="none" stroke="#1a1a2a" stroke-width="0.9"><circle cx="452.8" cy="813.8" r="5.8"/><line x1="447.0" y1="813.8" x2="458.6" y2="813.8"/></g>
<circle cx="567.3" cy="825.0" r="6" fill="#8ef6e6" stroke="#1a1a1a" stroke-width="1"/>
<circle cx="502.8" cy="845.0" r="6" fill="#8ef6e6" stroke="#1a1a1a" stroke-width="1"/>
<circle cx="603.5" cy="817.0" r="6" fill="#52e01a" stroke="#1a1a1a" stroke-width="1"/>
<circle cx="608.3" cy="829.5" r="6" fill="#8ef6e6" stroke="#1a1a1a" stroke-width="1"/>
<circle cx="536.0" cy="874.0" r="6" fill="#f2e21a" stroke="#1a1a1a" stroke-width="1"/>
<circle cx="439.5" cy="877.0" r="6" fill="#0a0af0" stroke="#1a1a1a" stroke-width="1"/>
<circle cx="448.5" cy="879.5" r="6" fill="#0a0af0" stroke="#1a1a1a" stroke-width="1"/>
<circle cx="454.5" cy="905.0" r="6" fill="#0a0af0" stroke="#1a1a1a" stroke-width="1"/>
<g fill="none" stroke="#1a1a2a" stroke-width="0.9"><circle cx="498.5" cy="908.0" r="5.8"/><line x1="492.7" y1="908.0" x2="504.3" y2="908.0"/></g>
<circle cx="539.0" cy="955.0" r="6" fill="#0a0af0" stroke="#1a1a1a" stroke-width="1"/>
<circle cx="499.8" cy="978.8" r="6" fill="#f2e21a" stroke="#1a1a1a" stroke-width="1"/>
<circle cx="593.5" cy="932.5" r="6" fill="#0a0af0" stroke="#1a1a1a" stroke-width="1"/>
<circle cx="605.0" cy="906.0" r="6" fill="#0a0af0" stroke="#1a1a1a" stroke-width="1"/>
<circle cx="616.0" cy="900.5" r="6" fill="#0a0af0" stroke="#1a1a1a" stroke-width="1"/>
<circle cx="628.5" cy="932.5" r="6" fill="#0a0af0" stroke="#1a1a1a" stroke-width="1"/>
<circle cx="617.8" cy="960.0" r="6" fill="#0a0af0" stroke="#1a1a1a" stroke-width="1"/>
<circle cx="636.5" cy="832.5" r="6" fill="#0a0af0" stroke="#1a1a1a" stroke-width="1"/>
<circle cx="628.5" cy="854.5" r="6" fill="#0a0af0" stroke="#1a1a1a" stroke-width="1"/>
<circle cx="658.5" cy="863.8" r="6" fill="#0a0af0" stroke="#1a1a1a" stroke-width="1"/>
<circle cx="659.0" cy="968.8" r="6" fill="#0a0af0" stroke="#1a1a1a" stroke-width="1"/>
<circle cx="685.0" cy="790.0" r="6" fill="#8ef6e6" stroke="#1a1a1a" stroke-width="1"/>
<circle cx="685.0" cy="805.8" r="6" fill="#0a0af0" stroke="#1a1a1a" stroke-width="1"/>
<circle cx="696.5" cy="807.0" r="6" fill="#0a0af0" stroke="#1a1a1a" stroke-width="1"/>
<circle cx="707.8" cy="774.5" r="6" fill="#2aa8e6" stroke="#1a1a1a" stroke-width="1"/>
<circle cx="709.0" cy="777.5" r="6" fill="#2aa8e6" stroke="#1a1a1a" stroke-width="1"/>
<circle cx="705.0" cy="845.0" r="6" fill="#8ef6e6" stroke="#1a1a1a" stroke-width="1"/>
<circle cx="664.0" cy="910.0" r="6" fill="#0a0af0" stroke="#1a1a1a" stroke-width="1"/>
<circle cx="671.5" cy="907.5" r="6" fill="#0a0af0" stroke="#1a1a1a" stroke-width="1"/>
<circle cx="666.5" cy="922.5" r="6" fill="#0a0af0" stroke="#1a1a1a" stroke-width="1"/>
<circle cx="691.5" cy="951.0" r="6" fill="#0a0af0" stroke="#1a1a1a" stroke-width="1"/>
<circle cx="684.0" cy="957.5" r="6" fill="#0a0af0" stroke="#1a1a1a" stroke-width="1"/>
<circle cx="689.0" cy="962.5" r="6" fill="#0a0af0" stroke="#1a1a1a" stroke-width="1"/>
<circle cx="688.5" cy="973.8" r="6" fill="#0a0af0" stroke="#1a1a1a" stroke-width="1"/>
<circle cx="749.5" cy="943.0" r="6" fill="#0a0af0" stroke="#1a1a1a" stroke-width="1"/>
<g fill="none" stroke="#1a1a2a" stroke-width="0.9"><circle cx="718.5" cy="980.0" r="5.8"/><line x1="712.7" y1="980.0" x2="724.3" y2="980.0"/></g>
<g fill="none" stroke="#1a1a2a" stroke-width="0.9"><circle cx="652.8" cy="765.0" r="5.8"/><line x1="647.0" y1="765.0" x2="658.6" y2="765.0"/></g>
<g fill="none" stroke="#1a1a2a" stroke-width="0.9"><circle cx="641.0" cy="787.5" r="5.8"/><line x1="636.9" y1="783.4" x2="645.1" y2="791.6"/><line x1="636.9" y1="791.6" x2="645.1" y2="783.4"/></g>
<g fill="none" stroke="#1a1a2a" stroke-width="0.9"><circle cx="587.3" cy="725.5" r="5.8"/><line x1="581.5" y1="725.5" x2="593.1" y2="725.5"/></g>
<g fill="none" stroke="#1a1a2a" stroke-width="0.9"><circle cx="425.5" cy="851.0" r="5.8"/><line x1="421.4" y1="846.9" x2="429.6" y2="855.1"/><line x1="421.4" y1="855.1" x2="429.6" y2="846.9"/></g>
<g fill="none" stroke="#1a1a2a" stroke-width="0.9"><circle cx="486.0" cy="933.0" r="5.8"/><line x1="480.2" y1="933.0" x2="491.8" y2="933.0"/></g>
<circle cx="754.0" cy="742.5" r="6" fill="#f2e21a" stroke="#1a1a1a" stroke-width="1"/>
<circle cx="757.8" cy="747.0" r="6" fill="#8ef6e6" stroke="#1a1a1a" stroke-width="1"/>
<circle cx="796.5" cy="743.3" r="6" fill="#f2e21a" stroke="#1a1a1a" stroke-width="1"/>
<circle cx="807.8" cy="784.0" r="6" fill="#ee1010" stroke="#1a1a1a" stroke-width="1"/>
<circle cx="779.5" cy="796.5" r="6" fill="#0a0af0" stroke="#1a1a1a" stroke-width="1"/>
<circle cx="757.8" cy="803.0" r="6" fill="#f0a02a" stroke="#1a1a1a" stroke-width="1"/>
<circle cx="744.8" cy="832.5" r="6" fill="#f2e21a" stroke="#1a1a1a" stroke-width="1"/>
<circle cx="793.5" cy="830.8" r="6" fill="#8ef6e6" stroke="#1a1a1a" stroke-width="1"/>
<circle cx="793.5" cy="843.8" r="6" fill="#52e01a" stroke="#1a1a1a" stroke-width="1"/>
<g fill="none" stroke="#1a1a2a" stroke-width="0.9"><circle cx="822.3" cy="840.0" r="5.8"/><line x1="816.5" y1="840.0" x2="828.1" y2="840.0"/></g>
<g fill="none" stroke="#1a1a2a" stroke-width="0.9"><circle cx="760.3" cy="866.3" r="5.8"/><line x1="754.5" y1="866.3" x2="766.1" y2="866.3"/></g>
<circle cx="776.5" cy="863.8" r="6" fill="#2aa8e6" stroke="#1a1a1a" stroke-width="1"/>
<circle cx="777.8" cy="872.5" r="6" fill="#52e01a" stroke="#1a1a1a" stroke-width="1"/>
<circle cx="807.8" cy="893.8" r="6" fill="#f0a02a" stroke="#1a1a1a" stroke-width="1"/>
<circle cx="799.0" cy="902.0" r="6" fill="#ee1010" stroke="#1a1a1a" stroke-width="1"/>
<circle cx="811.5" cy="897.5" r="6" fill="#ee1010" stroke="#1a1a1a" stroke-width="1"/>
<circle cx="732.3" cy="906.3" r="6" fill="#8ef6e6" stroke="#1a1a1a" stroke-width="1"/>
<circle cx="759.0" cy="916.3" r="6" fill="#f2e21a" stroke="#1a1a1a" stroke-width="1"/>
<circle cx="810.8" cy="941.3" r="6" fill="#52e01a" stroke="#1a1a1a" stroke-width="1"/>
<circle cx="822.8" cy="953.8" r="6" fill="#f0a02a" stroke="#1a1a1a" stroke-width="1"/>
<g fill="none" stroke="#1a1a2a" stroke-width="0.9"><circle cx="762.3" cy="966.3" r="5.8"/><line x1="756.5" y1="966.3" x2="768.1" y2="966.3"/></g>
<circle cx="785.3" cy="977.0" r="6" fill="#8ef6e6" stroke="#1a1a1a" stroke-width="1"/>
<circle cx="798.3" cy="977.0" r="6" fill="#ee1010" stroke="#1a1a1a" stroke-width="1"/>
<circle cx="822.8" cy="991.3" r="6" fill="#52e01a" stroke="#1a1a1a" stroke-width="1"/>
<g fill="none" stroke="#1a1a2a" stroke-width="0.9"><circle cx="744.0" cy="992.5" r="5.8"/><line x1="738.2" y1="992.5" x2="749.8" y2="992.5"/></g>
<g fill="none" stroke="#1a1a2a" stroke-width="0.9"><circle cx="876.8" cy="763.3" r="5.8"/><line x1="871.0" y1="763.3" x2="882.6" y2="763.3"/></g>
<circle cx="949.3" cy="786.8" r="6" fill="#8ef6e6" stroke="#1a1a1a" stroke-width="1"/>
<circle cx="876.8" cy="810.5" r="6" fill="#ee1010" stroke="#1a1a1a" stroke-width="1"/>
<g fill="none" stroke="#1a1a2a" stroke-width="0.9"><circle cx="851.3" cy="838.3" r="5.8"/><line x1="845.5" y1="838.3" x2="857.1" y2="838.3"/></g>
<g fill="none" stroke="#1a1a2a" stroke-width="0.9"><circle cx="901.8" cy="835.8" r="5.8"/><line x1="896.0" y1="835.8" x2="907.6" y2="835.8"/></g>
<g fill="none" stroke="#1a1a2a" stroke-width="0.9"><circle cx="950.5" cy="840.0" r="5.8"/><line x1="944.7" y1="840.0" x2="956.3" y2="840.0"/></g>
<circle cx="886.3" cy="850.0" r="6" fill="#f0a02a" stroke="#1a1a1a" stroke-width="1"/>
<circle cx="913.0" cy="856.3" r="6" fill="#2aa8e6" stroke="#1a1a1a" stroke-width="1"/>
<circle cx="856.3" cy="868.8" r="6" fill="#52e01a" stroke="#1a1a1a" stroke-width="1"/>
<circle cx="867.0" cy="875.0" r="6" fill="#52e01a" stroke="#1a1a1a" stroke-width="1"/>
<circle cx="877.0" cy="878.3" r="6" fill="#52e01a" stroke="#1a1a1a" stroke-width="1"/>
<circle cx="831.3" cy="868.8" r="6" fill="#f0a02a" stroke="#1a1a1a" stroke-width="1"/>
<circle cx="1010.5" cy="858.0" r="6" fill="#ee1010" stroke="#1a1a1a" stroke-width="1"/>
<g fill="none" stroke="#1a1a2a" stroke-width="0.9"><circle cx="1043.0" cy="798.3" r="5.8"/><line x1="1037.2" y1="798.3" x2="1048.8" y2="798.3"/></g>
<circle cx="1091.8" cy="768.3" r="6" fill="#52e01a" stroke="#1a1a1a" stroke-width="1"/>
<circle cx="1142.0" cy="774.5" r="6" fill="#2aa8e6" stroke="#1a1a1a" stroke-width="1"/>
<circle cx="1109.3" cy="826.3" r="6" fill="#0a0af0" stroke="#1a1a1a" stroke-width="1"/>
<circle cx="1183.0" cy="785.5" r="6" fill="#8ef6e6" stroke="#1a1a1a" stroke-width="1"/>
<g fill="none" stroke="#1a1a2a" stroke-width="0.9"><circle cx="1214.3" cy="855.0" r="5.8"/><line x1="1208.5" y1="855.0" x2="1220.1" y2="855.0"/></g>
<circle cx="845.5" cy="911.0" r="6" fill="#ee1010" stroke="#1a1a1a" stroke-width="1"/>
<circle cx="889.3" cy="912.5" r="6" fill="#ee1010" stroke="#1a1a1a" stroke-width="1"/>
<circle cx="836.3" cy="931.8" r="6" fill="#f2e21a" stroke="#1a1a1a" stroke-width="1"/>
<circle cx="944.3" cy="918.8" r="6" fill="#f2e21a" stroke="#1a1a1a" stroke-width="1"/>
<g fill="none" stroke="#1a1a2a" stroke-width="0.9"><circle cx="963.0" cy="927.3" r="5.8"/><line x1="957.2" y1="927.3" x2="968.8" y2="927.3"/></g>
<g fill="none" stroke="#1a1a2a" stroke-width="0.9"><circle cx="927.0" cy="935.0" r="5.8"/><line x1="921.2" y1="935.0" x2="932.8" y2="935.0"/></g>
<circle cx="1019.3" cy="931.8" r="6" fill="#f0a02a" stroke="#1a1a1a" stroke-width="1"/>
<circle cx="1051.3" cy="933.0" r="6" fill="#ee1010" stroke="#1a1a1a" stroke-width="1"/>
<circle cx="1063.8" cy="930.0" r="6" fill="#52e01a" stroke="#1a1a1a" stroke-width="1"/>
<circle cx="1065.0" cy="943.0" r="6" fill="#f0a02a" stroke="#1a1a1a" stroke-width="1"/>
<circle cx="1046.3" cy="949.3" r="6" fill="#ee1010" stroke="#1a1a1a" stroke-width="1"/>
<circle cx="1079.3" cy="920.5" r="6" fill="#0a0af0" stroke="#1a1a1a" stroke-width="1"/>
<circle cx="1107.5" cy="937.5" r="6" fill="#8ef6e6" stroke="#1a1a1a" stroke-width="1"/>
<circle cx="1104.3" cy="948.8" r="6" fill="#f2e21a" stroke="#1a1a1a" stroke-width="1"/>
<circle cx="1113.8" cy="963.0" r="6" fill="#8ef6e6" stroke="#1a1a1a" stroke-width="1"/>
<circle cx="1075.0" cy="964.3" r="6" fill="#0a0af0" stroke="#1a1a1a" stroke-width="1"/>
<circle cx="1085.0" cy="962.5" r="6" fill="#0a0af0" stroke="#1a1a1a" stroke-width="1"/>
<circle cx="1087.5" cy="968.0" r="6" fill="#0a0af0" stroke="#1a1a1a" stroke-width="1"/>
<circle cx="1099.3" cy="987.5" r="6" fill="#0a0af0" stroke="#1a1a1a" stroke-width="1"/>
<circle cx="1105.0" cy="996.0" r="6" fill="#0a0af0" stroke="#1a1a1a" stroke-width="1"/>
<circle cx="1107.5" cy="1008.5" r="6" fill="#52e01a" stroke="#1a1a1a" stroke-width="1"/>
<g fill="none" stroke="#1a1a2a" stroke-width="0.9"><circle cx="1160.8" cy="963.0" r="5.8"/><line x1="1156.7" y1="958.9" x2="1164.9" y2="967.1"/><line x1="1156.7" y1="967.1" x2="1164.9" y2="958.9"/></g>
<g fill="none" stroke="#1a1a2a" stroke-width="0.9"><circle cx="1177.0" cy="924.8" r="5.8"/><line x1="1171.2" y1="924.8" x2="1182.8" y2="924.8"/></g>
<g fill="none" stroke="#1a1a2a" stroke-width="0.9"><circle cx="1136.3" cy="996.0" r="5.8"/><line x1="1130.5" y1="996.0" x2="1142.1" y2="996.0"/></g>
<circle cx="1091.8" cy="1022.5" r="6" fill="#ee1010" stroke="#1a1a1a" stroke-width="1"/>
<circle cx="1010.0" cy="1019.8" r="6" fill="#2aa8e6" stroke="#1a1a1a" stroke-width="1"/>
<circle cx="1066.8" cy="1035.5" r="6" fill="#8ef6e6" stroke="#1a1a1a" stroke-width="1"/>
<circle cx="1007.0" cy="1043.0" r="6" fill="#f0a02a" stroke="#1a1a1a" stroke-width="1"/>
<circle cx="1008.8" cy="1050.0" r="6" fill="#ee1010" stroke="#1a1a1a" stroke-width="1"/>
<circle cx="1099.5" cy="1060.5" r="6" fill="#f0a02a" stroke="#1a1a1a" stroke-width="1"/>
<circle cx="1068.3" cy="1071.3" r="6" fill="#ee1010" stroke="#1a1a1a" stroke-width="1"/>
<circle cx="1141.8" cy="1085.5" r="6" fill="#2aa8e6" stroke="#1a1a1a" stroke-width="1"/>
<circle cx="1087.5" cy="1096.3" r="6" fill="#f0a02a" stroke="#1a1a1a" stroke-width="1"/>
<circle cx="990.0" cy="1079.3" r="6" fill="#0a0af0" stroke="#1a1a1a" stroke-width="1"/>
<circle cx="983.8" cy="1095.0" r="6" fill="#ee1010" stroke="#1a1a1a" stroke-width="1"/>
<g fill="none" stroke="#1a1a2a" stroke-width="0.9"><circle cx="1030.8" cy="1093.8" r="5.8"/><line x1="1025.0" y1="1093.8" x2="1036.6" y2="1093.8"/></g>
<circle cx="901.8" cy="1093.5" r="6" fill="#ee1010" stroke="#1a1a1a" stroke-width="1"/>
<circle cx="864.5" cy="1090.5" r="6" fill="#f2e21a" stroke="#1a1a1a" stroke-width="1"/>
<g fill="none" stroke="#1a1a2a" stroke-width="0.9"><circle cx="836.3" cy="1086.8" r="5.8"/><line x1="832.2" y1="1082.7" x2="840.4" y2="1090.9"/><line x1="832.2" y1="1090.9" x2="840.4" y2="1082.7"/></g>
<circle cx="837.0" cy="1108.0" r="6" fill="#f0a02a" stroke="#1a1a1a" stroke-width="1"/>
<circle cx="826.5" cy="1111.6" r="6" fill="#f2e21a" stroke="#1a1a1a" stroke-width="1"/>
<circle cx="870.5" cy="1065.0" r="6" fill="#ee1010" stroke="#1a1a1a" stroke-width="1"/>
<circle cx="884.5" cy="1041.8" r="6" fill="#f0a02a" stroke="#1a1a1a" stroke-width="1"/>
<circle cx="878.3" cy="1002.5" r="6" fill="#ee1010" stroke="#1a1a1a" stroke-width="1"/>
<circle cx="913.0" cy="986.8" r="6" fill="#ee1010" stroke="#1a1a1a" stroke-width="1"/>
<circle cx="886.3" cy="974.3" r="6" fill="#ee1010" stroke="#1a1a1a" stroke-width="1"/>
<g fill="none" stroke="#1a1a2a" stroke-width="0.9"><circle cx="893.0" cy="974.3" r="5.8"/><line x1="887.2" y1="974.3" x2="898.8" y2="974.3"/></g>
<g fill="none" stroke="#1a1a2a" stroke-width="0.9"><circle cx="965.0" cy="975.5" r="5.8"/><line x1="959.2" y1="975.5" x2="970.8" y2="975.5"/></g>
<circle cx="1025.8" cy="969.3" r="6" fill="#ee1010" stroke="#1a1a1a" stroke-width="1"/>
<circle cx="1062.0" cy="973.8" r="6" fill="#f0a02a" stroke="#1a1a1a" stroke-width="1"/>
<g fill="none" stroke="#1a1a2a" stroke-width="0.9"><circle cx="1001.3" cy="991.8" r="5.8"/><line x1="995.5" y1="991.8" x2="1007.1" y2="991.8"/></g>
<circle cx="823.6" cy="990.9" r="6" fill="#52e01a" stroke="#1a1a1a" stroke-width="1"/>
<circle cx="779.5" cy="1024.2" r="6" fill="#0a0af0" stroke="#1a1a1a" stroke-width="1"/>
<circle cx="820.1" cy="1054.2" r="6" fill="#ee1010" stroke="#1a1a1a" stroke-width="1"/>
<circle cx="796.5" cy="1080.7" r="6" fill="#0a0af0" stroke="#1a1a1a" stroke-width="1"/>
<g fill="none" stroke="#1a1a2a" stroke-width="0.9"><circle cx="1238.0" cy="782.5" r="5.8"/><line x1="1233.9" y1="778.4" x2="1242.1" y2="786.6"/><line x1="1233.9" y1="786.6" x2="1242.1" y2="778.4"/></g>
<circle cx="1303.8" cy="781.3" r="6" fill="#0a0af0" stroke="#1a1a1a" stroke-width="1"/>
<g fill="none" stroke="#1a1a2a" stroke-width="0.9"><circle cx="1266.3" cy="838.8" r="5.8"/><line x1="1260.5" y1="838.8" x2="1272.1" y2="838.8"/></g>
<circle cx="1231.8" cy="878.3" r="6" fill="#2aa8e6" stroke="#1a1a1a" stroke-width="1"/>
<g fill="none" stroke="#1a1a2a" stroke-width="0.9"><circle cx="1275.8" cy="888.8" r="5.8"/><line x1="1270.0" y1="888.8" x2="1281.6" y2="888.8"/></g>
<circle cx="1258.3" cy="897.0" r="6" fill="#ee1010" stroke="#1a1a1a" stroke-width="1"/>
<circle cx="1277.5" cy="955.0" r="6" fill="#2aa8e6" stroke="#1a1a1a" stroke-width="1"/>
<polygon points="740,539 747,539 750,545 747,551 740,551 737,545" fill="#c8c0a0" stroke="#333" stroke-width="0.8"/>
<text x="266.0" y="175.7" class="bn">Kootenai</text>
<text x="266.0" y="197.8" class="bv">164</text>
<text x="464.0" y="268.7" class="bn">St. Mary</text>
<text x="464.0" y="290.8" class="bv">75</text>
<text x="393.0" y="460.7" class="bn">Flathead</text>
<text x="393.0" y="483.8" class="bv">127</text>
<text x="584.0" y="435.7" class="bn">Sun-Teton-</text>
<text x="584.0" y="451.7" class="bn">Marias</text>
<text x="584.0" y="473.8" class="bv">120</text>
<text x="983.0" y="353.7" class="bn">Milk</text>
<text x="983.0" y="375.8" class="bv">261</text>
<text x="826.0" y="400.7" class="bn">Bear Paw</text>
<text x="826.0" y="422.8" class="bv">351</text>
<text x="829.0" y="472.7" class="bn">Middle Missouri</text>
<text x="829.0" y="494.8" class="bv">358</text>
<text x="1183.0" y="538.7" class="bn">Lower Missouri</text>
<text x="1183.0" y="560.8" class="bv">95</text>
<text x="283.0" y="524.7" class="bn">Lower Clark</text>
<text x="283.0" y="540.7" class="bn">Fork</text>
<text x="283.0" y="562.8" class="bv">171</text>
<text x="811.0" y="629.7" class="bn">Smith-Judith-</text>
<text x="811.0" y="645.7" class="bn">Musselshell</text>
<text x="811.0" y="668.8" class="bv">114</text>
<text x="487.0" y="651.7" class="bn">Upper Clark</text>
<text x="487.0" y="667.7" class="bn">Fork</text>
<text x="487.0" y="689.8" class="bv">138</text>
<text x="626.0" y="673.7" class="bn">Upper Missouri</text>
<text x="626.0" y="695.8" class="bv">186</text>
<text x="1329.0" y="602.7" class="bn">Lower</text>
<text x="1329.0" y="618.7" class="bn">Yellowstone</text>
<text x="1329.0" y="640.8" class="bv">154</text>
<text x="385.0" y="728.7" class="bn">Bitterroot</text>
<text x="385.0" y="750.8" class="bv">187</text>
<text x="535.0" y="873.7" class="bn">Jefferson</text>
<text x="535.0" y="895.8" class="bv">212</text>
<text x="630.0" y="873.7" class="bn">Madison</text>
<text x="630.0" y="895.8" class="bv">205</text>
<text x="692.0" y="821.7" class="bn">Gallatin</text>
<text x="692.0" y="843.8" class="bv">165</text>
<text x="842.0" y="850.7" class="bn">Upper</text>
<text x="842.0" y="866.7" class="bn">Yellowstone</text>
<text x="842.0" y="887.8" class="bv">96</text>
<text x="1157.0" y="876.7" class="bn">Tongue</text>
<text x="1157.0" y="898.8" class="bv">133</text>
<text x="1169.0" y="1025.7" class="bn">Powder</text>
<text x="1169.0" y="1047.8" class="bv">130</text>
<text x="969.0" y="1066.7" class="bn">Bighorn</text>
<text x="969.0" y="1088.8" class="bv">80</text>
</g>
<rect x="51.5" y="647.5" width="179" height="452" fill="#fff" stroke="#3a3a3a" stroke-width="1"/>
<text x="67" y="671.6" class="lh">Percent NRCS</text>
<text x="67" y="689.8" class="lh">1991-2020 Median</text>
<rect x="66.7" y="704.0" width="40.8" height="14.2" fill="#3a3aee" stroke="#222" stroke-width="1"/>
<text x="115.6" y="715.7" class="lt">&#8805; 150%</text>
<rect x="66.7" y="730.7" width="40.8" height="14.2" fill="#3cb4e6" stroke="#222" stroke-width="1"/>
<text x="115.6" y="742.4" class="lt">130% to 149%</text>
<rect x="66.7" y="757.0" width="40.8" height="14.2" fill="#8ef8e6" stroke="#222" stroke-width="1"/>
<text x="115.6" y="768.7" class="lt">110% to 129%</text>
<rect x="66.7" y="783.7" width="40.8" height="14.2" fill="#6ee83e" stroke="#222" stroke-width="1"/>
<text x="115.6" y="795.4" class="lt">90% to 109%</text>
<rect x="66.7" y="810.0" width="40.8" height="14.2" fill="#eeea3c" stroke="#222" stroke-width="1"/>
<text x="115.6" y="821.7" class="lt">70% to 89%</text>
<rect x="66.7" y="836.4" width="40.8" height="14.2" fill="#eeae40" stroke="#222" stroke-width="1"/>
<text x="115.6" y="848.1" class="lt">50% to 69%</text>
<rect x="66.7" y="862.7" width="40.8" height="14.2" fill="#e84040" stroke="#222" stroke-width="1"/>
<text x="115.6" y="874.4" class="lt">&lt; 50%</text>
<rect x="66.7" y="888.8" width="40.8" height="14.2" fill="#dcdcdc" stroke="#222" stroke-width="1"/>
<text x="115.6" y="900.5" class="lt">No basin value</text>
<g fill="none" stroke="#111" stroke-width="1.1"><circle cx="73.5" cy="922.2" r="7.2"/><circle cx="73.5" cy="945.3" r="7.2"/><circle cx="73.5" cy="968.7" r="7.2"/><line x1="68.4" y1="963.6" x2="78.6" y2="973.8"/><line x1="68.4" y1="973.8" x2="78.6" y2="963.6"/></g>
<text x="90.9" y="926.8" class="lt">Observation Missing</text>
<text x="90.9" y="949.7" class="lt">Median is zero</text>
<text x="90.9" y="973" class="lt">Median missing</text>
<text x="66.9" y="998.6" class="lh">Watershed Boundaries</text>
<line x1="66.3" y1="1015.9" x2="87.9" y2="1015.9" stroke="#0014dc" stroke-width="2"/>
<text x="96.8" y="1019.5" class="lt">Region (HUC2)</text>
<line x1="66.3" y1="1037" x2="87.9" y2="1037" stroke="#666" stroke-width="2"/>
<text x="96.8" y="1041.5" class="lt">State Watersheds</text>
<text x="66.9" y="1067.4" class="lh">Political Boundaries</text>
<line x1="66.3" y1="1085.3" x2="87.9" y2="1085.3" stroke="#111" stroke-width="2"/>
<text x="96.8" y="1089.3" class="lt">State Boundaries</text>

<text x="216.6" y="90.8" font-size="24" text-anchor="middle">1 month Precipitation</text>
<text x="792.1" y="77.9" font-size="36.5" text-anchor="middle">Monthly Precipitation</text>
<text x="792" y="116.2" font-size="24.2" text-anchor="middle">Percent NRCS 1991-2020 Median</text>
<text x="1368.2" y="76.7" font-size="24.2" text-anchor="middle">August 1, 2025 -</text>
<text x="1368" y="104.2" font-size="24.2" text-anchor="middle">August 31, 2025</text>
<rect x="395" y="38" width="2" height="94" fill="#777"/>
<rect x="1187" y="38" width="2" height="94" fill="#777"/>


<text x="56.2" y="1147.6" font-family="Liberation Serif,serif" font-size="30.5" fill="#13529c" stroke="#13529c" stroke-width="0.6" textLength="72.6" lengthAdjust="spacingAndGlyphs">USDA</text>
<path d="M57,1151 L57,1154 Q70,1153.5 80,1153.8 Q68,1151.5 57,1151 Z" fill="#035f3f"/>
<path d="M57,1155.5 L57,1158.5 Q66,1157 75,1156.6 Q66,1155.8 57,1155.5 Z" fill="#035f3f"/>
<path d="M57,1163.5 Q90,1151.5 129,1151 L129,1153.6 Q92,1154.5 57,1164.8 Z" fill="#035f3f"/>
<path d="M57,1166 Q92,1156.5 129,1156 L129,1176 L57,1176 Z" fill="#035f3f"/>
<text x="142.5" y="1137.8" class="ft" textLength="125.3" lengthAdjust="spacingAndGlyphs">Natural Resources</text>
<text x="142.5" y="1152.9" class="ft" textLength="143.4" lengthAdjust="spacingAndGlyphs">Conservation Service</text>
<text x="142.5" y="1174.4" class="ft" font-size="13" font-weight="bold" textLength="262" lengthAdjust="spacingAndGlyphs">United States Department of Agriculture</text>
<text x="792" y="1138.9" font-size="16.5" text-anchor="middle">N</text>
<path d="M792,1141.7 L780,1179.2 L791.7,1164.6 Z" fill="#000"/>
<path d="M792,1141.7 L803.7,1178.9 L791.7,1164.6 Z" fill="none" stroke="#000" stroke-width="1.3" stroke-linejoin="miter"/>
<rect x="1147" y="1129" width="342" height="8" fill="#000"/>
<rect x="1161" y="1131" width="14" height="3.6" fill="#fff"/>
<rect x="1188.5" y="1131" width="14" height="3.6" fill="#fff"/>
<rect x="1215.7" y="1131" width="68.3" height="3.6" fill="#fff"/>
<rect x="1352" y="1131" width="68" height="3.6" fill="#fff"/>
<g font-size="14.3" text-anchor="middle">
<text x="1147.6" y="1154.3">0</text><text x="1181.3" y="1154.3">2</text><text x="1215.7" y="1154.3">4</text><text x="1283.5" y="1154.3">8</text><text x="1352.2" y="1154.3">12</text><text x="1420.2" y="1154.3">16</text><text x="1487.5" y="1154.3">20</text>
</g>
<text x="1497.6" y="1138" font-size="16">Miles</text>
<text x="1537.5" y="1180.7" font-size="16.2" text-anchor="end">Created 9-10-2025</text>

<rect x="37" y="37" width="1510" height="1150" fill="none" stroke="#000" stroke-width="2"/>
<rect x="38" y="132" width="1508" height="2" fill="#000"/>
<rect x="38" y="1114" width="1508" height="2" fill="#000"/>
</svg>
</body></html>
